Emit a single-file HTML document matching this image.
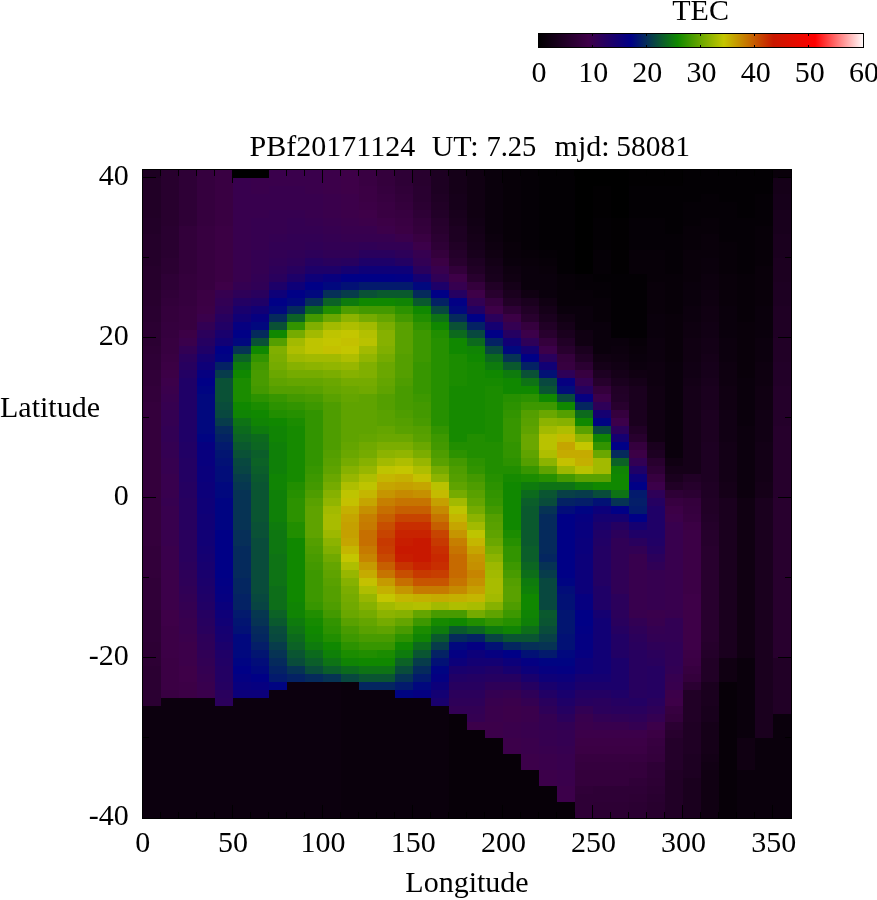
<!DOCTYPE html>
<html><head><meta charset="utf-8"><title>TEC map</title>
<style>
html,body{margin:0;padding:0;background:#fff;}
body{width:877px;height:900px;overflow:hidden;}
svg{display:block;}
text{font-family:"Liberation Serif","DejaVu Serif",serif;font-size:30.0px;fill:#000;}
.m{text-anchor:middle}.e{text-anchor:end}
</style></head><body>
<svg width="877" height="900" viewBox="0 0 877 900">
<rect width="877" height="900" fill="#fff"/>
<g shape-rendering="crispEdges">
<rect x="143" y="706" width="18" height="112" fill="#0c000e"/><rect x="143" y="666" width="18" height="40" fill="#2b0032"/><rect x="143" y="642" width="18" height="24" fill="#2d0034"/><rect x="143" y="610" width="18" height="32" fill="#2e0036"/><rect x="143" y="578" width="18" height="32" fill="#300038"/><rect x="143" y="546" width="18" height="32" fill="#32003a"/><rect x="143" y="402" width="18" height="144" fill="#34003c"/><rect x="143" y="386" width="18" height="16" fill="#32003a"/><rect x="143" y="370" width="18" height="16" fill="#300038"/><rect x="143" y="354" width="18" height="16" fill="#2e0036"/><rect x="143" y="346" width="18" height="8" fill="#2d0034"/><rect x="143" y="322" width="18" height="24" fill="#2b0032"/><rect x="143" y="306" width="18" height="16" fill="#290030"/><rect x="143" y="290" width="18" height="16" fill="#28002e"/><rect x="143" y="266" width="18" height="24" fill="#26002c"/><rect x="143" y="234" width="18" height="32" fill="#24002a"/><rect x="143" y="218" width="18" height="16" fill="#220028"/><rect x="143" y="178" width="18" height="40" fill="#210026"/><rect x="143" y="170" width="18" height="8" fill="#1d0022"/>
<rect x="161" y="698" width="18" height="120" fill="#0c000e"/><rect x="161" y="690" width="18" height="8" fill="#390042"/><rect x="161" y="658" width="18" height="32" fill="#3b0044"/><rect x="161" y="626" width="18" height="32" fill="#3c0046"/><rect x="161" y="610" width="18" height="16" fill="#3e0048"/><rect x="161" y="570" width="18" height="40" fill="#3c004a"/><rect x="161" y="546" width="18" height="24" fill="#3a004c"/><rect x="161" y="506" width="18" height="40" fill="#38004e"/><rect x="161" y="498" width="18" height="8" fill="#360050"/><rect x="161" y="474" width="18" height="24" fill="#38004e"/><rect x="161" y="458" width="18" height="16" fill="#360050"/><rect x="161" y="442" width="18" height="16" fill="#340052"/><rect x="161" y="426" width="18" height="16" fill="#320054"/><rect x="161" y="410" width="18" height="16" fill="#340052"/><rect x="161" y="402" width="18" height="8" fill="#360050"/><rect x="161" y="394" width="18" height="8" fill="#38004e"/><rect x="161" y="386" width="18" height="8" fill="#3a004c"/><rect x="161" y="378" width="18" height="8" fill="#3c004a"/><rect x="161" y="370" width="18" height="8" fill="#3c0046"/><rect x="161" y="362" width="18" height="8" fill="#3b0044"/><rect x="161" y="354" width="18" height="8" fill="#390042"/><rect x="161" y="338" width="18" height="16" fill="#370040"/><rect x="161" y="322" width="18" height="16" fill="#35003e"/><rect x="161" y="306" width="18" height="16" fill="#34003c"/><rect x="161" y="298" width="18" height="8" fill="#32003a"/><rect x="161" y="290" width="18" height="8" fill="#300038"/><rect x="161" y="274" width="18" height="16" fill="#2e0036"/><rect x="161" y="258" width="18" height="16" fill="#2b0032"/><rect x="161" y="226" width="18" height="32" fill="#290030"/><rect x="161" y="170" width="18" height="56" fill="#28002e"/>
<rect x="179" y="698" width="18" height="120" fill="#0c000e"/><rect x="179" y="682" width="18" height="16" fill="#3c0046"/><rect x="179" y="666" width="18" height="16" fill="#3e0048"/><rect x="179" y="642" width="18" height="24" fill="#3c004a"/><rect x="179" y="634" width="18" height="8" fill="#3a004c"/><rect x="179" y="618" width="18" height="16" fill="#38004e"/><rect x="179" y="610" width="18" height="8" fill="#360050"/><rect x="179" y="602" width="18" height="8" fill="#340052"/><rect x="179" y="594" width="18" height="8" fill="#320054"/><rect x="179" y="586" width="18" height="8" fill="#300056"/><rect x="179" y="578" width="18" height="8" fill="#2e0058"/><rect x="179" y="570" width="18" height="8" fill="#2d0059"/><rect x="179" y="562" width="18" height="8" fill="#2b005b"/><rect x="179" y="530" width="18" height="32" fill="#29005d"/><rect x="179" y="498" width="18" height="32" fill="#27005f"/><rect x="179" y="482" width="18" height="16" fill="#250061"/><rect x="179" y="458" width="18" height="24" fill="#230063"/><rect x="179" y="442" width="18" height="16" fill="#210065"/><rect x="179" y="378" width="18" height="64" fill="#1f0067"/><rect x="179" y="370" width="18" height="8" fill="#230063"/><rect x="179" y="362" width="18" height="8" fill="#27005f"/><rect x="179" y="354" width="18" height="8" fill="#2b005b"/><rect x="179" y="346" width="18" height="8" fill="#320054"/><rect x="179" y="338" width="18" height="8" fill="#3a004c"/><rect x="179" y="330" width="18" height="8" fill="#3c0046"/><rect x="179" y="306" width="18" height="24" fill="#370040"/><rect x="179" y="290" width="18" height="16" fill="#35003e"/><rect x="179" y="274" width="18" height="16" fill="#34003c"/><rect x="179" y="226" width="18" height="48" fill="#32003a"/><rect x="179" y="170" width="18" height="56" fill="#2e0036"/>
<rect x="197" y="698" width="18" height="120" fill="#0c000e"/><rect x="197" y="690" width="18" height="8" fill="#3a004c"/><rect x="197" y="682" width="18" height="8" fill="#38004e"/><rect x="197" y="674" width="18" height="8" fill="#360050"/><rect x="197" y="666" width="18" height="8" fill="#340052"/><rect x="197" y="658" width="18" height="8" fill="#320054"/><rect x="197" y="650" width="18" height="8" fill="#300056"/><rect x="197" y="642" width="18" height="8" fill="#2e0058"/><rect x="197" y="634" width="18" height="8" fill="#2d0059"/><rect x="197" y="626" width="18" height="8" fill="#29005d"/><rect x="197" y="618" width="18" height="8" fill="#27005f"/><rect x="197" y="610" width="18" height="8" fill="#250061"/><rect x="197" y="602" width="18" height="8" fill="#210065"/><rect x="197" y="594" width="18" height="8" fill="#1f0067"/><rect x="197" y="586" width="18" height="8" fill="#1d0069"/><rect x="197" y="578" width="18" height="8" fill="#1b006b"/><rect x="197" y="570" width="18" height="8" fill="#19006d"/><rect x="197" y="562" width="18" height="8" fill="#17006f"/><rect x="197" y="554" width="18" height="8" fill="#150071"/><rect x="197" y="546" width="18" height="8" fill="#130073"/><rect x="197" y="530" width="18" height="16" fill="#110075"/><rect x="197" y="514" width="18" height="16" fill="#100076"/><rect x="197" y="498" width="18" height="16" fill="#0e0078"/><rect x="197" y="482" width="18" height="16" fill="#0c007a"/><rect x="197" y="466" width="18" height="16" fill="#0a007c"/><rect x="197" y="450" width="18" height="16" fill="#08007e"/><rect x="197" y="442" width="18" height="8" fill="#060080"/><rect x="197" y="434" width="18" height="8" fill="#000482"/><rect x="197" y="394" width="18" height="40" fill="#01087e"/><rect x="197" y="386" width="18" height="8" fill="#000482"/><rect x="197" y="378" width="18" height="8" fill="#000086"/><rect x="197" y="370" width="18" height="8" fill="#060080"/><rect x="197" y="362" width="18" height="8" fill="#0e0078"/><rect x="197" y="354" width="18" height="8" fill="#150071"/><rect x="197" y="346" width="18" height="8" fill="#1f0067"/><rect x="197" y="338" width="18" height="8" fill="#250061"/><rect x="197" y="330" width="18" height="8" fill="#2b005b"/><rect x="197" y="322" width="18" height="8" fill="#320054"/><rect x="197" y="314" width="18" height="8" fill="#3a004c"/><rect x="197" y="306" width="18" height="8" fill="#3c0046"/><rect x="197" y="290" width="18" height="16" fill="#3b0044"/><rect x="197" y="226" width="18" height="64" fill="#370040"/><rect x="197" y="170" width="18" height="56" fill="#35003e"/>
<rect x="215" y="706" width="18" height="112" fill="#0c000e"/><rect x="215" y="698" width="18" height="8" fill="#2b005b"/><rect x="215" y="690" width="18" height="8" fill="#29005d"/><rect x="215" y="682" width="18" height="8" fill="#250061"/><rect x="215" y="666" width="18" height="16" fill="#230063"/><rect x="215" y="658" width="18" height="8" fill="#210065"/><rect x="215" y="650" width="18" height="8" fill="#1f0067"/><rect x="215" y="642" width="18" height="8" fill="#1b006b"/><rect x="215" y="634" width="18" height="8" fill="#17006f"/><rect x="215" y="626" width="18" height="8" fill="#150071"/><rect x="215" y="618" width="18" height="8" fill="#110075"/><rect x="215" y="610" width="18" height="8" fill="#0e0078"/><rect x="215" y="602" width="18" height="8" fill="#0a007c"/><rect x="215" y="594" width="18" height="8" fill="#060080"/><rect x="215" y="586" width="18" height="8" fill="#040082"/><rect x="215" y="578" width="18" height="8" fill="#020084"/><rect x="215" y="530" width="18" height="48" fill="#000086"/><rect x="215" y="498" width="18" height="32" fill="#000482"/><rect x="215" y="482" width="18" height="16" fill="#01087e"/><rect x="215" y="466" width="18" height="16" fill="#020d79"/><rect x="215" y="458" width="18" height="8" fill="#021175"/><rect x="215" y="450" width="18" height="8" fill="#021571"/><rect x="215" y="442" width="18" height="8" fill="#031a6d"/><rect x="215" y="434" width="18" height="8" fill="#042264"/><rect x="215" y="426" width="18" height="8" fill="#052a5c"/><rect x="215" y="418" width="18" height="8" fill="#073c4b"/><rect x="215" y="410" width="18" height="8" fill="#08483f"/><rect x="215" y="402" width="18" height="8" fill="#094c3b"/><rect x="215" y="378" width="18" height="24" fill="#0a5136"/><rect x="215" y="370" width="18" height="8" fill="#073c4b"/><rect x="215" y="362" width="18" height="8" fill="#042264"/><rect x="215" y="354" width="18" height="8" fill="#000482"/><rect x="215" y="346" width="18" height="8" fill="#000086"/><rect x="215" y="338" width="18" height="8" fill="#110075"/><rect x="215" y="330" width="18" height="8" fill="#19006d"/><rect x="215" y="322" width="18" height="8" fill="#210065"/><rect x="215" y="314" width="18" height="8" fill="#27005f"/><rect x="215" y="306" width="18" height="8" fill="#2e0058"/><rect x="215" y="298" width="18" height="8" fill="#320054"/><rect x="215" y="290" width="18" height="8" fill="#360050"/><rect x="215" y="282" width="18" height="8" fill="#3e0048"/><rect x="215" y="226" width="18" height="56" fill="#3b0044"/><rect x="215" y="170" width="18" height="56" fill="#390042"/>
<rect x="233" y="698" width="18" height="120" fill="#0c000e"/><rect x="233" y="690" width="18" height="8" fill="#0c007a"/><rect x="233" y="682" width="18" height="8" fill="#08007e"/><rect x="233" y="674" width="18" height="8" fill="#040082"/><rect x="233" y="666" width="18" height="8" fill="#000086"/><rect x="233" y="658" width="18" height="8" fill="#000482"/><rect x="233" y="634" width="18" height="24" fill="#01087e"/><rect x="233" y="626" width="18" height="8" fill="#021175"/><rect x="233" y="618" width="18" height="8" fill="#021571"/><rect x="233" y="610" width="18" height="8" fill="#031a6d"/><rect x="233" y="594" width="18" height="16" fill="#042264"/><rect x="233" y="578" width="18" height="16" fill="#042660"/><rect x="233" y="546" width="18" height="32" fill="#052a5c"/><rect x="233" y="530" width="18" height="16" fill="#062f58"/><rect x="233" y="490" width="18" height="40" fill="#063354"/><rect x="233" y="482" width="18" height="8" fill="#063750"/><rect x="233" y="474" width="18" height="8" fill="#073c4b"/><rect x="233" y="466" width="18" height="8" fill="#084443"/><rect x="233" y="458" width="18" height="8" fill="#08483f"/><rect x="233" y="450" width="18" height="8" fill="#0a5136"/><rect x="233" y="442" width="18" height="8" fill="#0a592e"/><rect x="233" y="434" width="18" height="8" fill="#0c6226"/><rect x="233" y="426" width="18" height="8" fill="#0c6a1d"/><rect x="233" y="418" width="18" height="8" fill="#0e7315"/><rect x="233" y="410" width="18" height="8" fill="#108404"/><rect x="233" y="402" width="18" height="8" fill="#108800"/><rect x="233" y="378" width="18" height="24" fill="#1b8c00"/><rect x="233" y="370" width="18" height="8" fill="#108800"/><rect x="233" y="362" width="18" height="8" fill="#0e7b0d"/><rect x="233" y="354" width="18" height="8" fill="#0c6226"/><rect x="233" y="346" width="18" height="8" fill="#063354"/><rect x="233" y="338" width="18" height="8" fill="#01087e"/><rect x="233" y="330" width="18" height="8" fill="#000086"/><rect x="233" y="322" width="18" height="8" fill="#060080"/><rect x="233" y="314" width="18" height="8" fill="#110075"/><rect x="233" y="306" width="18" height="8" fill="#19006d"/><rect x="233" y="298" width="18" height="8" fill="#230063"/><rect x="233" y="290" width="18" height="8" fill="#2e0058"/><rect x="233" y="282" width="18" height="8" fill="#340052"/><rect x="233" y="178" width="18" height="104" fill="#38004e"/><rect x="233" y="170" width="18" height="8" fill="#000000"/>
<rect x="251" y="698" width="18" height="120" fill="#0c000e"/><rect x="251" y="690" width="18" height="8" fill="#0c007a"/><rect x="251" y="682" width="18" height="8" fill="#060080"/><rect x="251" y="674" width="18" height="8" fill="#000086"/><rect x="251" y="666" width="18" height="8" fill="#01087e"/><rect x="251" y="658" width="18" height="8" fill="#020d79"/><rect x="251" y="650" width="18" height="8" fill="#021571"/><rect x="251" y="642" width="18" height="8" fill="#041e69"/><rect x="251" y="634" width="18" height="8" fill="#042660"/><rect x="251" y="626" width="18" height="8" fill="#052a5c"/><rect x="251" y="618" width="18" height="8" fill="#063354"/><rect x="251" y="610" width="18" height="8" fill="#063750"/><rect x="251" y="602" width="18" height="8" fill="#084443"/><rect x="251" y="594" width="18" height="8" fill="#08483f"/><rect x="251" y="538" width="18" height="56" fill="#094c3b"/><rect x="251" y="522" width="18" height="16" fill="#0a5136"/><rect x="251" y="482" width="18" height="40" fill="#0a5532"/><rect x="251" y="474" width="18" height="8" fill="#0a592e"/><rect x="251" y="466" width="18" height="8" fill="#0b5e2a"/><rect x="251" y="458" width="18" height="8" fill="#0c6226"/><rect x="251" y="450" width="18" height="8" fill="#0b5e2a"/><rect x="251" y="442" width="18" height="8" fill="#0c6622"/><rect x="251" y="434" width="18" height="8" fill="#0c6a1d"/><rect x="251" y="426" width="18" height="8" fill="#0e7b0d"/><rect x="251" y="418" width="18" height="8" fill="#108404"/><rect x="251" y="410" width="18" height="8" fill="#108800"/><rect x="251" y="402" width="18" height="8" fill="#1b8c00"/><rect x="251" y="394" width="18" height="8" fill="#2c9200"/><rect x="251" y="386" width="18" height="8" fill="#439900"/><rect x="251" y="370" width="18" height="16" fill="#489b00"/><rect x="251" y="362" width="18" height="8" fill="#439900"/><rect x="251" y="354" width="18" height="8" fill="#329400"/><rect x="251" y="346" width="18" height="8" fill="#108800"/><rect x="251" y="338" width="18" height="8" fill="#0a5136"/><rect x="251" y="330" width="18" height="8" fill="#052a5c"/><rect x="251" y="322" width="18" height="8" fill="#01087e"/><rect x="251" y="314" width="18" height="8" fill="#060080"/><rect x="251" y="306" width="18" height="8" fill="#110075"/><rect x="251" y="298" width="18" height="8" fill="#1f0067"/><rect x="251" y="290" width="18" height="8" fill="#29005d"/><rect x="251" y="282" width="18" height="8" fill="#300056"/><rect x="251" y="274" width="18" height="8" fill="#320054"/><rect x="251" y="250" width="18" height="24" fill="#340052"/><rect x="251" y="218" width="18" height="32" fill="#360050"/><rect x="251" y="194" width="18" height="24" fill="#38004e"/><rect x="251" y="178" width="18" height="16" fill="#3a004c"/><rect x="251" y="170" width="18" height="8" fill="#000000"/>
<rect x="269" y="690" width="18" height="128" fill="#0c000e"/><rect x="269" y="682" width="18" height="8" fill="#000482"/><rect x="269" y="674" width="18" height="8" fill="#031a6d"/><rect x="269" y="666" width="18" height="8" fill="#042264"/><rect x="269" y="658" width="18" height="8" fill="#052a5c"/><rect x="269" y="650" width="18" height="8" fill="#063354"/><rect x="269" y="642" width="18" height="8" fill="#073c4b"/><rect x="269" y="634" width="18" height="8" fill="#08483f"/><rect x="269" y="626" width="18" height="8" fill="#094c3b"/><rect x="269" y="618" width="18" height="8" fill="#0a592e"/><rect x="269" y="610" width="18" height="8" fill="#0c6226"/><rect x="269" y="586" width="18" height="24" fill="#0d6e19"/><rect x="269" y="554" width="18" height="32" fill="#0e7315"/><rect x="269" y="530" width="18" height="24" fill="#0e7711"/><rect x="269" y="522" width="18" height="8" fill="#0e7b0d"/><rect x="269" y="490" width="18" height="32" fill="#0f8008"/><rect x="269" y="474" width="18" height="16" fill="#108404"/><rect x="269" y="442" width="18" height="32" fill="#0f8008"/><rect x="269" y="426" width="18" height="16" fill="#108404"/><rect x="269" y="418" width="18" height="8" fill="#108800"/><rect x="269" y="410" width="18" height="8" fill="#218e00"/><rect x="269" y="402" width="18" height="8" fill="#2c9200"/><rect x="269" y="394" width="18" height="8" fill="#379600"/><rect x="269" y="386" width="18" height="8" fill="#549f00"/><rect x="269" y="378" width="18" height="8" fill="#5fa300"/><rect x="269" y="370" width="18" height="8" fill="#6aa700"/><rect x="269" y="362" width="18" height="8" fill="#75ab00"/><rect x="269" y="354" width="18" height="8" fill="#7bad00"/><rect x="269" y="346" width="18" height="8" fill="#80af00"/><rect x="269" y="338" width="18" height="8" fill="#549f00"/><rect x="269" y="330" width="18" height="8" fill="#108800"/><rect x="269" y="322" width="18" height="8" fill="#0a5136"/><rect x="269" y="314" width="18" height="8" fill="#052a5c"/><rect x="269" y="306" width="18" height="8" fill="#01087e"/><rect x="269" y="298" width="18" height="8" fill="#000086"/><rect x="269" y="290" width="18" height="8" fill="#0e0078"/><rect x="269" y="282" width="18" height="8" fill="#1d0069"/><rect x="269" y="274" width="18" height="8" fill="#29005d"/><rect x="269" y="266" width="18" height="8" fill="#2d0059"/><rect x="269" y="258" width="18" height="8" fill="#300056"/><rect x="269" y="242" width="18" height="16" fill="#320054"/><rect x="269" y="234" width="18" height="8" fill="#340052"/><rect x="269" y="210" width="18" height="24" fill="#360050"/><rect x="269" y="186" width="18" height="24" fill="#38004e"/><rect x="269" y="170" width="18" height="16" fill="#3a004c"/>
<rect x="287" y="682" width="18" height="136" fill="#0c000e"/><rect x="287" y="674" width="18" height="8" fill="#042264"/><rect x="287" y="666" width="18" height="8" fill="#063354"/><rect x="287" y="658" width="18" height="8" fill="#094c3b"/><rect x="287" y="650" width="18" height="8" fill="#0a5532"/><rect x="287" y="642" width="18" height="8" fill="#0c6226"/><rect x="287" y="634" width="18" height="8" fill="#0c6a1d"/><rect x="287" y="626" width="18" height="8" fill="#0e7315"/><rect x="287" y="618" width="18" height="8" fill="#0e7b0d"/><rect x="287" y="602" width="18" height="16" fill="#108404"/><rect x="287" y="538" width="18" height="64" fill="#108800"/><rect x="287" y="522" width="18" height="16" fill="#218e00"/><rect x="287" y="498" width="18" height="24" fill="#2c9200"/><rect x="287" y="490" width="18" height="8" fill="#269000"/><rect x="287" y="482" width="18" height="8" fill="#218e00"/><rect x="287" y="426" width="18" height="56" fill="#168a00"/><rect x="287" y="418" width="18" height="8" fill="#1b8c00"/><rect x="287" y="410" width="18" height="8" fill="#269000"/><rect x="287" y="402" width="18" height="8" fill="#329400"/><rect x="287" y="394" width="18" height="8" fill="#439900"/><rect x="287" y="386" width="18" height="8" fill="#549f00"/><rect x="287" y="378" width="18" height="8" fill="#64a500"/><rect x="287" y="370" width="18" height="8" fill="#75ab00"/><rect x="287" y="362" width="18" height="8" fill="#86b100"/><rect x="287" y="354" width="18" height="8" fill="#9db800"/><rect x="287" y="346" width="18" height="8" fill="#aebe00"/><rect x="287" y="338" width="18" height="8" fill="#a2ba00"/><rect x="287" y="330" width="18" height="8" fill="#75ab00"/><rect x="287" y="322" width="18" height="8" fill="#329400"/><rect x="287" y="314" width="18" height="8" fill="#0c6226"/><rect x="287" y="306" width="18" height="8" fill="#052a5c"/><rect x="287" y="298" width="18" height="8" fill="#01087e"/><rect x="287" y="290" width="18" height="8" fill="#000086"/><rect x="287" y="282" width="18" height="8" fill="#0e0078"/><rect x="287" y="274" width="18" height="8" fill="#1d0069"/><rect x="287" y="266" width="18" height="8" fill="#27005f"/><rect x="287" y="258" width="18" height="8" fill="#2d0059"/><rect x="287" y="250" width="18" height="8" fill="#300056"/><rect x="287" y="234" width="18" height="16" fill="#320054"/><rect x="287" y="218" width="18" height="16" fill="#340052"/><rect x="287" y="210" width="18" height="8" fill="#360050"/><rect x="287" y="186" width="18" height="24" fill="#38004e"/><rect x="287" y="170" width="18" height="16" fill="#3a004c"/>
<rect x="305" y="682" width="18" height="136" fill="#0c000e"/><rect x="305" y="674" width="18" height="8" fill="#052a5c"/><rect x="305" y="666" width="18" height="8" fill="#094c3b"/><rect x="305" y="658" width="18" height="8" fill="#0b5e2a"/><rect x="305" y="650" width="18" height="8" fill="#0c6a1d"/><rect x="305" y="642" width="18" height="8" fill="#0e7b0d"/><rect x="305" y="634" width="18" height="8" fill="#108404"/><rect x="305" y="626" width="18" height="8" fill="#108800"/><rect x="305" y="618" width="18" height="8" fill="#168a00"/><rect x="305" y="610" width="18" height="8" fill="#218e00"/><rect x="305" y="602" width="18" height="8" fill="#379600"/><rect x="305" y="570" width="18" height="32" fill="#3d9800"/><rect x="305" y="562" width="18" height="8" fill="#439900"/><rect x="305" y="554" width="18" height="8" fill="#489b00"/><rect x="305" y="546" width="18" height="8" fill="#4e9d00"/><rect x="305" y="538" width="18" height="8" fill="#549f00"/><rect x="305" y="506" width="18" height="32" fill="#5fa300"/><rect x="305" y="498" width="18" height="8" fill="#59a100"/><rect x="305" y="490" width="18" height="8" fill="#4e9d00"/><rect x="305" y="482" width="18" height="8" fill="#439900"/><rect x="305" y="474" width="18" height="8" fill="#3d9800"/><rect x="305" y="466" width="18" height="8" fill="#379600"/><rect x="305" y="410" width="18" height="56" fill="#329400"/><rect x="305" y="402" width="18" height="8" fill="#3d9800"/><rect x="305" y="394" width="18" height="8" fill="#489b00"/><rect x="305" y="386" width="18" height="8" fill="#59a100"/><rect x="305" y="378" width="18" height="8" fill="#64a500"/><rect x="305" y="370" width="18" height="8" fill="#75ab00"/><rect x="305" y="362" width="18" height="8" fill="#8cb300"/><rect x="305" y="354" width="18" height="8" fill="#a2ba00"/><rect x="305" y="338" width="18" height="16" fill="#bec400"/><rect x="305" y="330" width="18" height="8" fill="#a2ba00"/><rect x="305" y="322" width="18" height="8" fill="#80af00"/><rect x="305" y="314" width="18" height="8" fill="#439900"/><rect x="305" y="306" width="18" height="8" fill="#0c6a1d"/><rect x="305" y="298" width="18" height="8" fill="#062f58"/><rect x="305" y="290" width="18" height="8" fill="#01087e"/><rect x="305" y="282" width="18" height="8" fill="#000086"/><rect x="305" y="274" width="18" height="8" fill="#0e0078"/><rect x="305" y="266" width="18" height="8" fill="#1d0069"/><rect x="305" y="258" width="18" height="8" fill="#250061"/><rect x="305" y="250" width="18" height="8" fill="#2d0059"/><rect x="305" y="242" width="18" height="8" fill="#300056"/><rect x="305" y="234" width="18" height="8" fill="#320054"/><rect x="305" y="226" width="18" height="8" fill="#340052"/><rect x="305" y="218" width="18" height="8" fill="#360050"/><rect x="305" y="194" width="18" height="24" fill="#38004e"/><rect x="305" y="170" width="18" height="24" fill="#3a004c"/>
<rect x="323" y="682" width="18" height="136" fill="#0c000e"/><rect x="323" y="674" width="18" height="8" fill="#063354"/><rect x="323" y="666" width="18" height="8" fill="#0b5e2a"/><rect x="323" y="658" width="18" height="8" fill="#0e7315"/><rect x="323" y="650" width="18" height="8" fill="#0f8008"/><rect x="323" y="642" width="18" height="8" fill="#108800"/><rect x="323" y="634" width="18" height="8" fill="#218e00"/><rect x="323" y="626" width="18" height="8" fill="#2c9200"/><rect x="323" y="618" width="18" height="8" fill="#329400"/><rect x="323" y="610" width="18" height="8" fill="#439900"/><rect x="323" y="602" width="18" height="8" fill="#4e9d00"/><rect x="323" y="586" width="18" height="16" fill="#549f00"/><rect x="323" y="578" width="18" height="8" fill="#59a100"/><rect x="323" y="570" width="18" height="8" fill="#5fa300"/><rect x="323" y="562" width="18" height="8" fill="#64a500"/><rect x="323" y="554" width="18" height="8" fill="#70a900"/><rect x="323" y="546" width="18" height="8" fill="#80af00"/><rect x="323" y="538" width="18" height="8" fill="#8cb300"/><rect x="323" y="530" width="18" height="8" fill="#9db800"/><rect x="323" y="514" width="18" height="16" fill="#a8bc00"/><rect x="323" y="506" width="18" height="8" fill="#a2ba00"/><rect x="323" y="498" width="18" height="8" fill="#91b500"/><rect x="323" y="490" width="18" height="8" fill="#86b100"/><rect x="323" y="482" width="18" height="8" fill="#75ab00"/><rect x="323" y="474" width="18" height="8" fill="#6aa700"/><rect x="323" y="466" width="18" height="8" fill="#5fa300"/><rect x="323" y="458" width="18" height="8" fill="#59a100"/><rect x="323" y="450" width="18" height="8" fill="#549f00"/><rect x="323" y="402" width="18" height="48" fill="#4e9d00"/><rect x="323" y="394" width="18" height="8" fill="#59a100"/><rect x="323" y="386" width="18" height="8" fill="#64a500"/><rect x="323" y="378" width="18" height="8" fill="#6aa700"/><rect x="323" y="370" width="18" height="8" fill="#7bad00"/><rect x="323" y="362" width="18" height="8" fill="#91b500"/><rect x="323" y="354" width="18" height="8" fill="#a2ba00"/><rect x="323" y="346" width="18" height="8" fill="#c4c100"/><rect x="323" y="338" width="18" height="8" fill="#c4c600"/><rect x="323" y="330" width="18" height="8" fill="#bec400"/><rect x="323" y="322" width="18" height="8" fill="#a2ba00"/><rect x="323" y="314" width="18" height="8" fill="#6aa700"/><rect x="323" y="306" width="18" height="8" fill="#218e00"/><rect x="323" y="298" width="18" height="8" fill="#0c6226"/><rect x="323" y="290" width="18" height="8" fill="#062f58"/><rect x="323" y="282" width="18" height="8" fill="#01087e"/><rect x="323" y="274" width="18" height="8" fill="#08007e"/><rect x="323" y="266" width="18" height="8" fill="#1d0069"/><rect x="323" y="258" width="18" height="8" fill="#29005d"/><rect x="323" y="250" width="18" height="8" fill="#300056"/><rect x="323" y="242" width="18" height="8" fill="#320054"/><rect x="323" y="234" width="18" height="8" fill="#340052"/><rect x="323" y="226" width="18" height="8" fill="#360050"/><rect x="323" y="218" width="18" height="8" fill="#38004e"/><rect x="323" y="194" width="18" height="24" fill="#3a004c"/><rect x="323" y="170" width="18" height="24" fill="#3c004a"/>
<rect x="341" y="682" width="18" height="136" fill="#0a000c"/><rect x="341" y="674" width="18" height="8" fill="#08483f"/><rect x="341" y="666" width="18" height="8" fill="#0c6a1d"/><rect x="341" y="658" width="18" height="8" fill="#108404"/><rect x="341" y="650" width="18" height="8" fill="#1b8c00"/><rect x="341" y="642" width="18" height="8" fill="#2c9200"/><rect x="341" y="634" width="18" height="8" fill="#3d9800"/><rect x="341" y="626" width="18" height="8" fill="#489b00"/><rect x="341" y="618" width="18" height="8" fill="#59a100"/><rect x="341" y="610" width="18" height="8" fill="#6aa700"/><rect x="341" y="602" width="18" height="8" fill="#70a900"/><rect x="341" y="594" width="18" height="8" fill="#75ab00"/><rect x="341" y="586" width="18" height="8" fill="#7bad00"/><rect x="341" y="578" width="18" height="8" fill="#86b100"/><rect x="341" y="570" width="18" height="8" fill="#97b600"/><rect x="341" y="562" width="18" height="8" fill="#aebe00"/><rect x="341" y="554" width="18" height="8" fill="#c4c600"/><rect x="341" y="546" width="18" height="8" fill="#c4b600"/><rect x="341" y="538" width="18" height="8" fill="#c5a500"/><rect x="341" y="522" width="18" height="16" fill="#c5a000"/><rect x="341" y="514" width="18" height="8" fill="#c5a500"/><rect x="341" y="506" width="18" height="8" fill="#c4b000"/><rect x="341" y="498" width="18" height="8" fill="#c4c100"/><rect x="341" y="490" width="18" height="8" fill="#bec400"/><rect x="341" y="482" width="18" height="8" fill="#aebe00"/><rect x="341" y="474" width="18" height="8" fill="#97b600"/><rect x="341" y="466" width="18" height="8" fill="#86b100"/><rect x="341" y="458" width="18" height="8" fill="#75ab00"/><rect x="341" y="450" width="18" height="8" fill="#6aa700"/><rect x="341" y="442" width="18" height="8" fill="#64a500"/><rect x="341" y="402" width="18" height="40" fill="#5fa300"/><rect x="341" y="394" width="18" height="8" fill="#64a500"/><rect x="341" y="386" width="18" height="8" fill="#6aa700"/><rect x="341" y="378" width="18" height="8" fill="#75ab00"/><rect x="341" y="370" width="18" height="8" fill="#86b100"/><rect x="341" y="362" width="18" height="8" fill="#97b600"/><rect x="341" y="354" width="18" height="8" fill="#aebe00"/><rect x="341" y="346" width="18" height="8" fill="#c4c600"/><rect x="341" y="338" width="18" height="8" fill="#c4c100"/><rect x="341" y="330" width="18" height="8" fill="#c4c600"/><rect x="341" y="322" width="18" height="8" fill="#aebe00"/><rect x="341" y="314" width="18" height="8" fill="#8cb300"/><rect x="341" y="306" width="18" height="8" fill="#4e9d00"/><rect x="341" y="298" width="18" height="8" fill="#0e7b0d"/><rect x="341" y="290" width="18" height="8" fill="#073c4b"/><rect x="341" y="282" width="18" height="8" fill="#021175"/><rect x="341" y="274" width="18" height="8" fill="#000086"/><rect x="341" y="266" width="18" height="8" fill="#150071"/><rect x="341" y="258" width="18" height="8" fill="#27005f"/><rect x="341" y="250" width="18" height="8" fill="#300056"/><rect x="341" y="242" width="18" height="8" fill="#320054"/><rect x="341" y="234" width="18" height="8" fill="#360050"/><rect x="341" y="226" width="18" height="8" fill="#38004e"/><rect x="341" y="218" width="18" height="8" fill="#3a004c"/><rect x="341" y="194" width="18" height="24" fill="#3c004a"/><rect x="341" y="170" width="18" height="24" fill="#3e0048"/>
<rect x="359" y="690" width="18" height="128" fill="#0a000c"/><rect x="359" y="682" width="18" height="8" fill="#042660"/><rect x="359" y="674" width="18" height="8" fill="#0a5532"/><rect x="359" y="666" width="18" height="8" fill="#0e7315"/><rect x="359" y="658" width="18" height="8" fill="#108800"/><rect x="359" y="650" width="18" height="8" fill="#218e00"/><rect x="359" y="642" width="18" height="8" fill="#379600"/><rect x="359" y="634" width="18" height="8" fill="#489b00"/><rect x="359" y="626" width="18" height="8" fill="#59a100"/><rect x="359" y="618" width="18" height="8" fill="#64a500"/><rect x="359" y="610" width="18" height="8" fill="#75ab00"/><rect x="359" y="602" width="18" height="8" fill="#86b100"/><rect x="359" y="594" width="18" height="8" fill="#97b600"/><rect x="359" y="586" width="18" height="8" fill="#aebe00"/><rect x="359" y="578" width="18" height="8" fill="#c4c100"/><rect x="359" y="570" width="18" height="8" fill="#c5ab00"/><rect x="359" y="562" width="18" height="8" fill="#c59a00"/><rect x="359" y="554" width="18" height="8" fill="#c68500"/><rect x="359" y="546" width="18" height="8" fill="#c67a00"/><rect x="359" y="530" width="18" height="16" fill="#c66f00"/><rect x="359" y="522" width="18" height="8" fill="#c67a00"/><rect x="359" y="514" width="18" height="8" fill="#c67f00"/><rect x="359" y="506" width="18" height="8" fill="#c59000"/><rect x="359" y="498" width="18" height="8" fill="#c5a500"/><rect x="359" y="490" width="18" height="8" fill="#c4b600"/><rect x="359" y="482" width="18" height="8" fill="#bec400"/><rect x="359" y="474" width="18" height="8" fill="#aebe00"/><rect x="359" y="466" width="18" height="8" fill="#97b600"/><rect x="359" y="458" width="18" height="8" fill="#86b100"/><rect x="359" y="450" width="18" height="8" fill="#75ab00"/><rect x="359" y="442" width="18" height="8" fill="#70a900"/><rect x="359" y="434" width="18" height="8" fill="#64a500"/><rect x="359" y="394" width="18" height="40" fill="#5fa300"/><rect x="359" y="386" width="18" height="8" fill="#70a900"/><rect x="359" y="378" width="18" height="8" fill="#75ab00"/><rect x="359" y="362" width="18" height="16" fill="#80af00"/><rect x="359" y="354" width="18" height="8" fill="#91b500"/><rect x="359" y="346" width="18" height="8" fill="#a2ba00"/><rect x="359" y="338" width="18" height="8" fill="#b9c200"/><rect x="359" y="330" width="18" height="8" fill="#b3c000"/><rect x="359" y="322" width="18" height="8" fill="#a2ba00"/><rect x="359" y="314" width="18" height="8" fill="#75ab00"/><rect x="359" y="306" width="18" height="8" fill="#439900"/><rect x="359" y="298" width="18" height="8" fill="#108800"/><rect x="359" y="290" width="18" height="8" fill="#0a5136"/><rect x="359" y="282" width="18" height="8" fill="#031a6d"/><rect x="359" y="274" width="18" height="8" fill="#000086"/><rect x="359" y="266" width="18" height="8" fill="#0e0078"/><rect x="359" y="258" width="18" height="8" fill="#1d0069"/><rect x="359" y="250" width="18" height="8" fill="#29005d"/><rect x="359" y="242" width="18" height="8" fill="#300056"/><rect x="359" y="234" width="18" height="8" fill="#360050"/><rect x="359" y="226" width="18" height="8" fill="#38004e"/><rect x="359" y="218" width="18" height="8" fill="#3c004a"/><rect x="359" y="210" width="18" height="8" fill="#3e0048"/><rect x="359" y="202" width="18" height="8" fill="#3c0046"/><rect x="359" y="186" width="18" height="16" fill="#3b0044"/><rect x="359" y="170" width="18" height="16" fill="#390042"/>
<rect x="377" y="690" width="18" height="128" fill="#0a000c"/><rect x="377" y="682" width="18" height="8" fill="#042660"/><rect x="377" y="674" width="18" height="8" fill="#0a5532"/><rect x="377" y="666" width="18" height="8" fill="#0e7315"/><rect x="377" y="658" width="18" height="8" fill="#108800"/><rect x="377" y="650" width="18" height="8" fill="#1b8c00"/><rect x="377" y="642" width="18" height="8" fill="#379600"/><rect x="377" y="634" width="18" height="8" fill="#489b00"/><rect x="377" y="626" width="18" height="8" fill="#5fa300"/><rect x="377" y="618" width="18" height="8" fill="#75ab00"/><rect x="377" y="610" width="18" height="8" fill="#8cb300"/><rect x="377" y="602" width="18" height="8" fill="#a2ba00"/><rect x="377" y="594" width="18" height="8" fill="#c4c600"/><rect x="377" y="586" width="18" height="8" fill="#c4b000"/><rect x="377" y="578" width="18" height="8" fill="#c59a00"/><rect x="377" y="570" width="18" height="8" fill="#c67400"/><rect x="377" y="562" width="18" height="8" fill="#c65f00"/><rect x="377" y="554" width="18" height="8" fill="#c74900"/><rect x="377" y="546" width="18" height="8" fill="#c73e00"/><rect x="377" y="538" width="18" height="8" fill="#c73900"/><rect x="377" y="530" width="18" height="8" fill="#c74400"/><rect x="377" y="522" width="18" height="8" fill="#c74e00"/><rect x="377" y="514" width="18" height="8" fill="#c65f00"/><rect x="377" y="506" width="18" height="8" fill="#c66f00"/><rect x="377" y="498" width="18" height="8" fill="#c67f00"/><rect x="377" y="490" width="18" height="8" fill="#c59500"/><rect x="377" y="482" width="18" height="8" fill="#c5a500"/><rect x="377" y="474" width="18" height="8" fill="#c4b600"/><rect x="377" y="466" width="18" height="8" fill="#bec400"/><rect x="377" y="458" width="18" height="8" fill="#a2ba00"/><rect x="377" y="450" width="18" height="8" fill="#8cb300"/><rect x="377" y="442" width="18" height="8" fill="#7bad00"/><rect x="377" y="434" width="18" height="8" fill="#6aa700"/><rect x="377" y="426" width="18" height="8" fill="#64a500"/><rect x="377" y="410" width="18" height="16" fill="#59a100"/><rect x="377" y="394" width="18" height="16" fill="#549f00"/><rect x="377" y="386" width="18" height="8" fill="#5fa300"/><rect x="377" y="378" width="18" height="8" fill="#64a500"/><rect x="377" y="362" width="18" height="16" fill="#6aa700"/><rect x="377" y="354" width="18" height="8" fill="#75ab00"/><rect x="377" y="346" width="18" height="8" fill="#80af00"/><rect x="377" y="330" width="18" height="16" fill="#86b100"/><rect x="377" y="322" width="18" height="8" fill="#7bad00"/><rect x="377" y="314" width="18" height="8" fill="#64a500"/><rect x="377" y="306" width="18" height="8" fill="#439900"/><rect x="377" y="298" width="18" height="8" fill="#108800"/><rect x="377" y="290" width="18" height="8" fill="#0a592e"/><rect x="377" y="282" width="18" height="8" fill="#031a6d"/><rect x="377" y="274" width="18" height="8" fill="#000086"/><rect x="377" y="266" width="18" height="8" fill="#0e0078"/><rect x="377" y="258" width="18" height="8" fill="#1d0069"/><rect x="377" y="250" width="18" height="8" fill="#29005d"/><rect x="377" y="242" width="18" height="8" fill="#320054"/><rect x="377" y="234" width="18" height="8" fill="#360050"/><rect x="377" y="226" width="18" height="8" fill="#3c004a"/><rect x="377" y="218" width="18" height="8" fill="#3c0046"/><rect x="377" y="202" width="18" height="16" fill="#390042"/><rect x="377" y="194" width="18" height="8" fill="#370040"/><rect x="377" y="186" width="18" height="8" fill="#35003e"/><rect x="377" y="170" width="18" height="16" fill="#34003c"/>
<rect x="395" y="698" width="18" height="120" fill="#0a000c"/><rect x="395" y="690" width="18" height="8" fill="#000482"/><rect x="395" y="682" width="18" height="8" fill="#031a6d"/><rect x="395" y="674" width="18" height="8" fill="#063354"/><rect x="395" y="666" width="18" height="8" fill="#094c3b"/><rect x="395" y="658" width="18" height="8" fill="#0c6226"/><rect x="395" y="650" width="18" height="8" fill="#0e7b0d"/><rect x="395" y="642" width="18" height="8" fill="#108800"/><rect x="395" y="634" width="18" height="8" fill="#2c9200"/><rect x="395" y="626" width="18" height="8" fill="#489b00"/><rect x="395" y="618" width="18" height="8" fill="#64a500"/><rect x="395" y="610" width="18" height="8" fill="#86b100"/><rect x="395" y="602" width="18" height="8" fill="#aebe00"/><rect x="395" y="594" width="18" height="8" fill="#c4b600"/><rect x="395" y="586" width="18" height="8" fill="#c59500"/><rect x="395" y="578" width="18" height="8" fill="#c66f00"/><rect x="395" y="570" width="18" height="8" fill="#c74e00"/><rect x="395" y="562" width="18" height="8" fill="#c73300"/><rect x="395" y="554" width="18" height="8" fill="#c81d00"/><rect x="395" y="546" width="18" height="8" fill="#c81800"/><rect x="395" y="538" width="18" height="8" fill="#c81d00"/><rect x="395" y="530" width="18" height="8" fill="#c82300"/><rect x="395" y="522" width="18" height="8" fill="#c82e00"/><rect x="395" y="514" width="18" height="8" fill="#c74400"/><rect x="395" y="506" width="18" height="8" fill="#c65f00"/><rect x="395" y="498" width="18" height="8" fill="#c67400"/><rect x="395" y="490" width="18" height="8" fill="#c58a00"/><rect x="395" y="482" width="18" height="8" fill="#c5a000"/><rect x="395" y="474" width="18" height="8" fill="#c4b000"/><rect x="395" y="466" width="18" height="8" fill="#c4c600"/><rect x="395" y="458" width="18" height="8" fill="#aebe00"/><rect x="395" y="450" width="18" height="8" fill="#91b500"/><rect x="395" y="442" width="18" height="8" fill="#7bad00"/><rect x="395" y="434" width="18" height="8" fill="#6aa700"/><rect x="395" y="426" width="18" height="8" fill="#59a100"/><rect x="395" y="418" width="18" height="8" fill="#549f00"/><rect x="395" y="410" width="18" height="8" fill="#4e9d00"/><rect x="395" y="386" width="18" height="24" fill="#489b00"/><rect x="395" y="378" width="18" height="8" fill="#4e9d00"/><rect x="395" y="354" width="18" height="24" fill="#549f00"/><rect x="395" y="322" width="18" height="32" fill="#59a100"/><rect x="395" y="314" width="18" height="8" fill="#439900"/><rect x="395" y="306" width="18" height="8" fill="#2c9200"/><rect x="395" y="298" width="18" height="8" fill="#108404"/><rect x="395" y="290" width="18" height="8" fill="#0a592e"/><rect x="395" y="282" width="18" height="8" fill="#031a6d"/><rect x="395" y="274" width="18" height="8" fill="#020084"/><rect x="395" y="266" width="18" height="8" fill="#0e0078"/><rect x="395" y="258" width="18" height="8" fill="#230063"/><rect x="395" y="250" width="18" height="8" fill="#2d0059"/><rect x="395" y="242" width="18" height="8" fill="#320054"/><rect x="395" y="234" width="18" height="8" fill="#3a004c"/><rect x="395" y="226" width="18" height="8" fill="#3b0044"/><rect x="395" y="218" width="18" height="8" fill="#390042"/><rect x="395" y="210" width="18" height="8" fill="#370040"/><rect x="395" y="202" width="18" height="8" fill="#34003c"/><rect x="395" y="194" width="18" height="8" fill="#32003a"/><rect x="395" y="186" width="18" height="8" fill="#300038"/><rect x="395" y="170" width="18" height="16" fill="#2e0036"/>
<rect x="413" y="698" width="18" height="120" fill="#0a000c"/><rect x="413" y="690" width="18" height="8" fill="#040082"/><rect x="413" y="682" width="18" height="8" fill="#01087e"/><rect x="413" y="674" width="18" height="8" fill="#031a6d"/><rect x="413" y="666" width="18" height="8" fill="#052a5c"/><rect x="413" y="658" width="18" height="8" fill="#073c4b"/><rect x="413" y="650" width="18" height="8" fill="#0a5532"/><rect x="413" y="642" width="18" height="8" fill="#0c6a1d"/><rect x="413" y="634" width="18" height="8" fill="#108404"/><rect x="413" y="626" width="18" height="8" fill="#1b8c00"/><rect x="413" y="618" width="18" height="8" fill="#3d9800"/><rect x="413" y="610" width="18" height="8" fill="#64a500"/><rect x="413" y="602" width="18" height="8" fill="#b3c000"/><rect x="413" y="594" width="18" height="8" fill="#c4b000"/><rect x="413" y="586" width="18" height="8" fill="#c67a00"/><rect x="413" y="578" width="18" height="8" fill="#c75400"/><rect x="413" y="570" width="18" height="8" fill="#c73900"/><rect x="413" y="562" width="18" height="8" fill="#c82300"/><rect x="413" y="538" width="18" height="24" fill="#c81800"/><rect x="413" y="530" width="18" height="8" fill="#c82300"/><rect x="413" y="522" width="18" height="8" fill="#c82e00"/><rect x="413" y="514" width="18" height="8" fill="#c74400"/><rect x="413" y="506" width="18" height="8" fill="#c65f00"/><rect x="413" y="498" width="18" height="8" fill="#c67400"/><rect x="413" y="490" width="18" height="8" fill="#c59000"/><rect x="413" y="482" width="18" height="8" fill="#c5a500"/><rect x="413" y="474" width="18" height="8" fill="#c4c100"/><rect x="413" y="466" width="18" height="8" fill="#aebe00"/><rect x="413" y="458" width="18" height="8" fill="#97b600"/><rect x="413" y="450" width="18" height="8" fill="#7bad00"/><rect x="413" y="442" width="18" height="8" fill="#6aa700"/><rect x="413" y="434" width="18" height="8" fill="#59a100"/><rect x="413" y="426" width="18" height="8" fill="#549f00"/><rect x="413" y="418" width="18" height="8" fill="#489b00"/><rect x="413" y="402" width="18" height="16" fill="#439900"/><rect x="413" y="394" width="18" height="8" fill="#3d9800"/><rect x="413" y="362" width="18" height="32" fill="#379600"/><rect x="413" y="330" width="18" height="32" fill="#3d9800"/><rect x="413" y="322" width="18" height="8" fill="#329400"/><rect x="413" y="314" width="18" height="8" fill="#218e00"/><rect x="413" y="306" width="18" height="8" fill="#108800"/><rect x="413" y="298" width="18" height="8" fill="#0a592e"/><rect x="413" y="290" width="18" height="8" fill="#052a5c"/><rect x="413" y="282" width="18" height="8" fill="#01087e"/><rect x="413" y="274" width="18" height="8" fill="#150071"/><rect x="413" y="266" width="18" height="8" fill="#29005d"/><rect x="413" y="258" width="18" height="8" fill="#320054"/><rect x="413" y="250" width="18" height="8" fill="#360050"/><rect x="413" y="242" width="18" height="8" fill="#3c004a"/><rect x="413" y="234" width="18" height="8" fill="#390042"/><rect x="413" y="226" width="18" height="8" fill="#34003c"/><rect x="413" y="218" width="18" height="8" fill="#32003a"/><rect x="413" y="210" width="18" height="8" fill="#2e0036"/><rect x="413" y="202" width="18" height="8" fill="#2b0032"/><rect x="413" y="186" width="18" height="16" fill="#290030"/><rect x="413" y="170" width="18" height="16" fill="#28002e"/>
<rect x="431" y="706" width="18" height="112" fill="#0a000c"/><rect x="431" y="698" width="18" height="8" fill="#19006d"/><rect x="431" y="690" width="18" height="8" fill="#130073"/><rect x="431" y="682" width="18" height="8" fill="#0c007a"/><rect x="431" y="674" width="18" height="8" fill="#040082"/><rect x="431" y="666" width="18" height="8" fill="#000482"/><rect x="431" y="658" width="18" height="8" fill="#021175"/><rect x="431" y="650" width="18" height="8" fill="#042264"/><rect x="431" y="642" width="18" height="8" fill="#073c4b"/><rect x="431" y="634" width="18" height="8" fill="#0a592e"/><rect x="431" y="626" width="18" height="8" fill="#0e7b0d"/><rect x="431" y="618" width="18" height="8" fill="#168a00"/><rect x="431" y="610" width="18" height="8" fill="#489b00"/><rect x="431" y="602" width="18" height="8" fill="#a2ba00"/><rect x="431" y="594" width="18" height="8" fill="#c5ab00"/><rect x="431" y="586" width="18" height="8" fill="#c67a00"/><rect x="431" y="578" width="18" height="8" fill="#c75400"/><rect x="431" y="570" width="18" height="8" fill="#c73e00"/><rect x="431" y="562" width="18" height="8" fill="#c82e00"/><rect x="431" y="554" width="18" height="8" fill="#c82800"/><rect x="431" y="546" width="18" height="8" fill="#c82e00"/><rect x="431" y="538" width="18" height="8" fill="#c73900"/><rect x="431" y="530" width="18" height="8" fill="#c74400"/><rect x="431" y="522" width="18" height="8" fill="#c65f00"/><rect x="431" y="514" width="18" height="8" fill="#c67400"/><rect x="431" y="506" width="18" height="8" fill="#c58a00"/><rect x="431" y="498" width="18" height="8" fill="#c5a000"/><rect x="431" y="490" width="18" height="8" fill="#c4bb00"/><rect x="431" y="482" width="18" height="8" fill="#b9c200"/><rect x="431" y="474" width="18" height="8" fill="#8cb300"/><rect x="431" y="466" width="18" height="8" fill="#75ab00"/><rect x="431" y="458" width="18" height="8" fill="#59a100"/><rect x="431" y="450" width="18" height="8" fill="#4e9d00"/><rect x="431" y="442" width="18" height="8" fill="#439900"/><rect x="431" y="434" width="18" height="8" fill="#3d9800"/><rect x="431" y="426" width="18" height="8" fill="#329400"/><rect x="431" y="338" width="18" height="88" fill="#269000"/><rect x="431" y="330" width="18" height="8" fill="#218e00"/><rect x="431" y="322" width="18" height="8" fill="#108800"/><rect x="431" y="314" width="18" height="8" fill="#0e7315"/><rect x="431" y="306" width="18" height="8" fill="#08483f"/><rect x="431" y="298" width="18" height="8" fill="#042264"/><rect x="431" y="290" width="18" height="8" fill="#000086"/><rect x="431" y="282" width="18" height="8" fill="#1d0069"/><rect x="431" y="274" width="18" height="8" fill="#300056"/><rect x="431" y="266" width="18" height="8" fill="#38004e"/><rect x="431" y="258" width="18" height="8" fill="#3b0044"/><rect x="431" y="250" width="18" height="8" fill="#34003c"/><rect x="431" y="242" width="18" height="8" fill="#2e0036"/><rect x="431" y="234" width="18" height="8" fill="#2b0032"/><rect x="431" y="226" width="18" height="8" fill="#28002e"/><rect x="431" y="218" width="18" height="8" fill="#26002c"/><rect x="431" y="210" width="18" height="8" fill="#220028"/><rect x="431" y="202" width="18" height="8" fill="#210026"/><rect x="431" y="194" width="18" height="8" fill="#1f0024"/><rect x="431" y="170" width="18" height="24" fill="#1d0022"/>
<rect x="449" y="714" width="18" height="104" fill="#070008"/><rect x="449" y="706" width="18" height="8" fill="#320054"/><rect x="449" y="698" width="18" height="8" fill="#2e0058"/><rect x="449" y="690" width="18" height="8" fill="#2b005b"/><rect x="449" y="682" width="18" height="8" fill="#27005f"/><rect x="449" y="674" width="18" height="8" fill="#210065"/><rect x="449" y="666" width="18" height="8" fill="#19006d"/><rect x="449" y="658" width="18" height="8" fill="#0c007a"/><rect x="449" y="650" width="18" height="8" fill="#040082"/><rect x="449" y="642" width="18" height="8" fill="#01087e"/><rect x="449" y="634" width="18" height="8" fill="#052a5c"/><rect x="449" y="626" width="18" height="8" fill="#0a592e"/><rect x="449" y="618" width="18" height="8" fill="#108800"/><rect x="449" y="610" width="18" height="8" fill="#489b00"/><rect x="449" y="602" width="18" height="8" fill="#aebe00"/><rect x="449" y="594" width="18" height="8" fill="#c4b000"/><rect x="449" y="586" width="18" height="8" fill="#c58a00"/><rect x="449" y="578" width="18" height="8" fill="#c67400"/><rect x="449" y="554" width="18" height="24" fill="#c66a00"/><rect x="449" y="546" width="18" height="8" fill="#c67400"/><rect x="449" y="538" width="18" height="8" fill="#c67f00"/><rect x="449" y="530" width="18" height="8" fill="#c59500"/><rect x="449" y="522" width="18" height="8" fill="#c5a500"/><rect x="449" y="514" width="18" height="8" fill="#c4b600"/><rect x="449" y="506" width="18" height="8" fill="#bec400"/><rect x="449" y="498" width="18" height="8" fill="#a2ba00"/><rect x="449" y="490" width="18" height="8" fill="#75ab00"/><rect x="449" y="482" width="18" height="8" fill="#5fa300"/><rect x="449" y="474" width="18" height="8" fill="#549f00"/><rect x="449" y="466" width="18" height="8" fill="#4e9d00"/><rect x="449" y="458" width="18" height="8" fill="#439900"/><rect x="449" y="450" width="18" height="8" fill="#2c9200"/><rect x="449" y="442" width="18" height="8" fill="#218e00"/><rect x="449" y="386" width="18" height="56" fill="#168a00"/><rect x="449" y="354" width="18" height="32" fill="#1b8c00"/><rect x="449" y="338" width="18" height="16" fill="#108800"/><rect x="449" y="330" width="18" height="8" fill="#0c6a1d"/><rect x="449" y="322" width="18" height="8" fill="#0a5136"/><rect x="449" y="314" width="18" height="8" fill="#052a5c"/><rect x="449" y="306" width="18" height="8" fill="#01087e"/><rect x="449" y="298" width="18" height="8" fill="#020084"/><rect x="449" y="290" width="18" height="8" fill="#250061"/><rect x="449" y="282" width="18" height="8" fill="#360050"/><rect x="449" y="274" width="18" height="8" fill="#3e0048"/><rect x="449" y="266" width="18" height="8" fill="#32003a"/><rect x="449" y="258" width="18" height="8" fill="#28002e"/><rect x="449" y="250" width="18" height="8" fill="#24002a"/><rect x="449" y="242" width="18" height="8" fill="#210026"/><rect x="449" y="226" width="18" height="16" fill="#1d0022"/><rect x="449" y="218" width="18" height="8" fill="#1a001e"/><rect x="449" y="210" width="18" height="8" fill="#18001c"/><rect x="449" y="194" width="18" height="16" fill="#16001a"/><rect x="449" y="170" width="18" height="24" fill="#150018"/>
<rect x="467" y="730" width="18" height="88" fill="#070008"/><rect x="467" y="722" width="18" height="8" fill="#3c004a"/><rect x="467" y="714" width="18" height="8" fill="#340052"/><rect x="467" y="706" width="18" height="8" fill="#320054"/><rect x="467" y="698" width="18" height="8" fill="#2e0058"/><rect x="467" y="690" width="18" height="8" fill="#2b005b"/><rect x="467" y="682" width="18" height="8" fill="#27005f"/><rect x="467" y="674" width="18" height="8" fill="#230063"/><rect x="467" y="666" width="18" height="8" fill="#1b006b"/><rect x="467" y="658" width="18" height="8" fill="#130073"/><rect x="467" y="650" width="18" height="8" fill="#0c007a"/><rect x="467" y="642" width="18" height="8" fill="#040082"/><rect x="467" y="634" width="18" height="8" fill="#042264"/><rect x="467" y="626" width="18" height="8" fill="#0c6622"/><rect x="467" y="618" width="18" height="8" fill="#218e00"/><rect x="467" y="610" width="18" height="8" fill="#75ab00"/><rect x="467" y="602" width="18" height="8" fill="#a8bc00"/><rect x="467" y="594" width="18" height="8" fill="#c4b600"/><rect x="467" y="586" width="18" height="8" fill="#c5a000"/><rect x="467" y="578" width="18" height="8" fill="#c59000"/><rect x="467" y="570" width="18" height="8" fill="#c68500"/><rect x="467" y="562" width="18" height="8" fill="#c59000"/><rect x="467" y="554" width="18" height="8" fill="#c59500"/><rect x="467" y="546" width="18" height="8" fill="#c5a500"/><rect x="467" y="538" width="18" height="8" fill="#c4b600"/><rect x="467" y="530" width="18" height="8" fill="#bec400"/><rect x="467" y="522" width="18" height="8" fill="#a2ba00"/><rect x="467" y="514" width="18" height="8" fill="#8cb300"/><rect x="467" y="506" width="18" height="8" fill="#75ab00"/><rect x="467" y="498" width="18" height="8" fill="#64a500"/><rect x="467" y="490" width="18" height="8" fill="#59a100"/><rect x="467" y="482" width="18" height="8" fill="#4e9d00"/><rect x="467" y="474" width="18" height="8" fill="#439900"/><rect x="467" y="466" width="18" height="8" fill="#329400"/><rect x="467" y="458" width="18" height="8" fill="#2c9200"/><rect x="467" y="434" width="18" height="24" fill="#218e00"/><rect x="467" y="362" width="18" height="72" fill="#168a00"/><rect x="467" y="354" width="18" height="8" fill="#108800"/><rect x="467" y="346" width="18" height="8" fill="#108404"/><rect x="467" y="338" width="18" height="8" fill="#0c6a1d"/><rect x="467" y="330" width="18" height="8" fill="#08483f"/><rect x="467" y="322" width="18" height="8" fill="#042264"/><rect x="467" y="314" width="18" height="8" fill="#000086"/><rect x="467" y="306" width="18" height="8" fill="#210065"/><rect x="467" y="298" width="18" height="8" fill="#320054"/><rect x="467" y="290" width="18" height="8" fill="#3e0048"/><rect x="467" y="282" width="18" height="8" fill="#34003c"/><rect x="467" y="274" width="18" height="8" fill="#28002e"/><rect x="467" y="266" width="18" height="8" fill="#210026"/><rect x="467" y="258" width="18" height="8" fill="#1d0022"/><rect x="467" y="250" width="18" height="8" fill="#18001c"/><rect x="467" y="242" width="18" height="8" fill="#16001a"/><rect x="467" y="234" width="18" height="8" fill="#150018"/><rect x="467" y="226" width="18" height="8" fill="#130016"/><rect x="467" y="218" width="18" height="8" fill="#110014"/><rect x="467" y="170" width="18" height="48" fill="#100012"/>
<rect x="485" y="738" width="18" height="80" fill="#070008"/><rect x="485" y="722" width="18" height="16" fill="#3c004a"/><rect x="485" y="706" width="18" height="16" fill="#3a004c"/><rect x="485" y="698" width="18" height="8" fill="#38004e"/><rect x="485" y="690" width="18" height="8" fill="#340052"/><rect x="485" y="682" width="18" height="8" fill="#2e0058"/><rect x="485" y="674" width="18" height="8" fill="#250061"/><rect x="485" y="666" width="18" height="8" fill="#1f0067"/><rect x="485" y="658" width="18" height="8" fill="#130073"/><rect x="485" y="650" width="18" height="8" fill="#060080"/><rect x="485" y="642" width="18" height="8" fill="#021175"/><rect x="485" y="634" width="18" height="8" fill="#084443"/><rect x="485" y="626" width="18" height="8" fill="#0e7b0d"/><rect x="485" y="618" width="18" height="8" fill="#329400"/><rect x="485" y="610" width="18" height="8" fill="#5fa300"/><rect x="485" y="602" width="18" height="8" fill="#86b100"/><rect x="485" y="594" width="18" height="8" fill="#a2ba00"/><rect x="485" y="578" width="18" height="16" fill="#a8bc00"/><rect x="485" y="570" width="18" height="8" fill="#a2ba00"/><rect x="485" y="562" width="18" height="8" fill="#9db800"/><rect x="485" y="554" width="18" height="8" fill="#8cb300"/><rect x="485" y="546" width="18" height="8" fill="#7bad00"/><rect x="485" y="538" width="18" height="8" fill="#6aa700"/><rect x="485" y="530" width="18" height="8" fill="#5fa300"/><rect x="485" y="522" width="18" height="8" fill="#59a100"/><rect x="485" y="514" width="18" height="8" fill="#549f00"/><rect x="485" y="506" width="18" height="8" fill="#439900"/><rect x="485" y="498" width="18" height="8" fill="#379600"/><rect x="485" y="490" width="18" height="8" fill="#329400"/><rect x="485" y="482" width="18" height="8" fill="#2c9200"/><rect x="485" y="474" width="18" height="8" fill="#269000"/><rect x="485" y="442" width="18" height="32" fill="#218e00"/><rect x="485" y="386" width="18" height="56" fill="#1b8c00"/><rect x="485" y="378" width="18" height="8" fill="#168a00"/><rect x="485" y="370" width="18" height="8" fill="#108800"/><rect x="485" y="362" width="18" height="8" fill="#0e7b0d"/><rect x="485" y="354" width="18" height="8" fill="#0c6a1d"/><rect x="485" y="346" width="18" height="8" fill="#08483f"/><rect x="485" y="338" width="18" height="8" fill="#042264"/><rect x="485" y="330" width="18" height="8" fill="#000086"/><rect x="485" y="322" width="18" height="8" fill="#150071"/><rect x="485" y="314" width="18" height="8" fill="#2b005b"/><rect x="485" y="306" width="18" height="8" fill="#3e0048"/><rect x="485" y="298" width="18" height="8" fill="#35003e"/><rect x="485" y="290" width="18" height="8" fill="#28002e"/><rect x="485" y="282" width="18" height="8" fill="#210026"/><rect x="485" y="274" width="18" height="8" fill="#18001c"/><rect x="485" y="266" width="18" height="8" fill="#16001a"/><rect x="485" y="258" width="18" height="8" fill="#130016"/><rect x="485" y="250" width="18" height="8" fill="#100012"/><rect x="485" y="242" width="18" height="8" fill="#0e0010"/><rect x="485" y="234" width="18" height="8" fill="#0c000e"/><rect x="485" y="170" width="18" height="64" fill="#0a000c"/>
<rect x="503" y="754" width="18" height="64" fill="#070008"/><rect x="503" y="738" width="18" height="16" fill="#3c004a"/><rect x="503" y="722" width="18" height="16" fill="#3a004c"/><rect x="503" y="706" width="18" height="16" fill="#3c004a"/><rect x="503" y="698" width="18" height="8" fill="#3a004c"/><rect x="503" y="690" width="18" height="8" fill="#360050"/><rect x="503" y="682" width="18" height="8" fill="#2e0058"/><rect x="503" y="674" width="18" height="8" fill="#250061"/><rect x="503" y="666" width="18" height="8" fill="#17006f"/><rect x="503" y="658" width="18" height="8" fill="#0c007a"/><rect x="503" y="650" width="18" height="8" fill="#000086"/><rect x="503" y="642" width="18" height="8" fill="#042660"/><rect x="503" y="634" width="18" height="8" fill="#0a5532"/><rect x="503" y="626" width="18" height="8" fill="#108404"/><rect x="503" y="618" width="18" height="8" fill="#269000"/><rect x="503" y="610" width="18" height="8" fill="#3d9800"/><rect x="503" y="602" width="18" height="8" fill="#4e9d00"/><rect x="503" y="586" width="18" height="16" fill="#59a100"/><rect x="503" y="578" width="18" height="8" fill="#549f00"/><rect x="503" y="570" width="18" height="8" fill="#489b00"/><rect x="503" y="562" width="18" height="8" fill="#3d9800"/><rect x="503" y="546" width="18" height="16" fill="#329400"/><rect x="503" y="538" width="18" height="8" fill="#269000"/><rect x="503" y="530" width="18" height="8" fill="#1b8c00"/><rect x="503" y="482" width="18" height="48" fill="#108800"/><rect x="503" y="474" width="18" height="8" fill="#168a00"/><rect x="503" y="466" width="18" height="8" fill="#218e00"/><rect x="503" y="458" width="18" height="8" fill="#2c9200"/><rect x="503" y="442" width="18" height="16" fill="#329400"/><rect x="503" y="418" width="18" height="24" fill="#379600"/><rect x="503" y="410" width="18" height="8" fill="#329400"/><rect x="503" y="402" width="18" height="8" fill="#2c9200"/><rect x="503" y="394" width="18" height="8" fill="#269000"/><rect x="503" y="378" width="18" height="16" fill="#108800"/><rect x="503" y="370" width="18" height="8" fill="#0e7b0d"/><rect x="503" y="362" width="18" height="8" fill="#0a592e"/><rect x="503" y="354" width="18" height="8" fill="#063354"/><rect x="503" y="346" width="18" height="8" fill="#01087e"/><rect x="503" y="338" width="18" height="8" fill="#110075"/><rect x="503" y="330" width="18" height="8" fill="#250061"/><rect x="503" y="322" width="18" height="8" fill="#340052"/><rect x="503" y="314" width="18" height="8" fill="#3c0046"/><rect x="503" y="306" width="18" height="8" fill="#2e0036"/><rect x="503" y="298" width="18" height="8" fill="#210026"/><rect x="503" y="290" width="18" height="8" fill="#1a001e"/><rect x="503" y="282" width="18" height="8" fill="#150018"/><rect x="503" y="274" width="18" height="8" fill="#100012"/><rect x="503" y="266" width="18" height="8" fill="#0e0010"/><rect x="503" y="258" width="18" height="8" fill="#0a000c"/><rect x="503" y="242" width="18" height="16" fill="#09000a"/><rect x="503" y="170" width="18" height="72" fill="#070008"/>
<rect x="521" y="770" width="18" height="48" fill="#070008"/><rect x="521" y="754" width="18" height="16" fill="#3c004a"/><rect x="521" y="738" width="18" height="16" fill="#3a004c"/><rect x="521" y="722" width="18" height="16" fill="#38004e"/><rect x="521" y="706" width="18" height="16" fill="#3a004c"/><rect x="521" y="698" width="18" height="8" fill="#340052"/><rect x="521" y="690" width="18" height="8" fill="#2e0058"/><rect x="521" y="682" width="18" height="8" fill="#250061"/><rect x="521" y="674" width="18" height="8" fill="#19006d"/><rect x="521" y="666" width="18" height="8" fill="#0c007a"/><rect x="521" y="658" width="18" height="8" fill="#040082"/><rect x="521" y="650" width="18" height="8" fill="#021175"/><rect x="521" y="642" width="18" height="8" fill="#062f58"/><rect x="521" y="634" width="18" height="8" fill="#0a5532"/><rect x="521" y="626" width="18" height="8" fill="#0d6e19"/><rect x="521" y="618" width="18" height="8" fill="#0f8008"/><rect x="521" y="610" width="18" height="8" fill="#108404"/><rect x="521" y="594" width="18" height="16" fill="#108800"/><rect x="521" y="586" width="18" height="8" fill="#0f8008"/><rect x="521" y="578" width="18" height="8" fill="#0e7b0d"/><rect x="521" y="570" width="18" height="8" fill="#0d6e19"/><rect x="521" y="562" width="18" height="8" fill="#0c6622"/><rect x="521" y="546" width="18" height="16" fill="#0b5e2a"/><rect x="521" y="506" width="18" height="40" fill="#0a592e"/><rect x="521" y="498" width="18" height="8" fill="#0b5e2a"/><rect x="521" y="490" width="18" height="8" fill="#0c6a1d"/><rect x="521" y="482" width="18" height="8" fill="#0e7b0d"/><rect x="521" y="474" width="18" height="8" fill="#1b8c00"/><rect x="521" y="466" width="18" height="8" fill="#379600"/><rect x="521" y="458" width="18" height="8" fill="#549f00"/><rect x="521" y="450" width="18" height="8" fill="#5fa300"/><rect x="521" y="434" width="18" height="16" fill="#6aa700"/><rect x="521" y="426" width="18" height="8" fill="#5fa300"/><rect x="521" y="418" width="18" height="8" fill="#59a100"/><rect x="521" y="410" width="18" height="8" fill="#549f00"/><rect x="521" y="402" width="18" height="8" fill="#3d9800"/><rect x="521" y="394" width="18" height="8" fill="#2c9200"/><rect x="521" y="386" width="18" height="8" fill="#108800"/><rect x="521" y="378" width="18" height="8" fill="#0e7315"/><rect x="521" y="370" width="18" height="8" fill="#0a5136"/><rect x="521" y="362" width="18" height="8" fill="#042264"/><rect x="521" y="354" width="18" height="8" fill="#000086"/><rect x="521" y="346" width="18" height="8" fill="#150071"/><rect x="521" y="338" width="18" height="8" fill="#2e0058"/><rect x="521" y="330" width="18" height="8" fill="#3c004a"/><rect x="521" y="322" width="18" height="8" fill="#35003e"/><rect x="521" y="314" width="18" height="8" fill="#28002e"/><rect x="521" y="306" width="18" height="8" fill="#210026"/><rect x="521" y="298" width="18" height="8" fill="#1a001e"/><rect x="521" y="290" width="18" height="8" fill="#100012"/><rect x="521" y="266" width="18" height="24" fill="#0a000c"/><rect x="521" y="258" width="18" height="8" fill="#09000a"/><rect x="521" y="250" width="18" height="8" fill="#070008"/><rect x="521" y="170" width="18" height="80" fill="#050006"/>
<rect x="539" y="786" width="18" height="32" fill="#070008"/><rect x="539" y="770" width="18" height="16" fill="#3c004a"/><rect x="539" y="754" width="18" height="16" fill="#3a004c"/><rect x="539" y="746" width="18" height="8" fill="#38004e"/><rect x="539" y="730" width="18" height="16" fill="#360050"/><rect x="539" y="714" width="18" height="16" fill="#340052"/><rect x="539" y="706" width="18" height="8" fill="#2e0058"/><rect x="539" y="698" width="18" height="8" fill="#29005d"/><rect x="539" y="690" width="18" height="8" fill="#210065"/><rect x="539" y="682" width="18" height="8" fill="#19006d"/><rect x="539" y="674" width="18" height="8" fill="#0e0078"/><rect x="539" y="666" width="18" height="8" fill="#060080"/><rect x="539" y="658" width="18" height="8" fill="#000482"/><rect x="539" y="650" width="18" height="8" fill="#031a6d"/><rect x="539" y="642" width="18" height="8" fill="#063354"/><rect x="539" y="634" width="18" height="8" fill="#084047"/><rect x="539" y="626" width="18" height="8" fill="#094c3b"/><rect x="539" y="618" width="18" height="8" fill="#0a5532"/><rect x="539" y="610" width="18" height="8" fill="#0a592e"/><rect x="539" y="578" width="18" height="32" fill="#08483f"/><rect x="539" y="570" width="18" height="8" fill="#073c4b"/><rect x="539" y="562" width="18" height="8" fill="#063354"/><rect x="539" y="554" width="18" height="8" fill="#042660"/><rect x="539" y="514" width="18" height="40" fill="#052a5c"/><rect x="539" y="506" width="18" height="8" fill="#063354"/><rect x="539" y="498" width="18" height="8" fill="#094c3b"/><rect x="539" y="490" width="18" height="8" fill="#0a5532"/><rect x="539" y="482" width="18" height="8" fill="#0e7315"/><rect x="539" y="474" width="18" height="8" fill="#269000"/><rect x="539" y="466" width="18" height="8" fill="#5fa300"/><rect x="539" y="458" width="18" height="8" fill="#8cb300"/><rect x="539" y="450" width="18" height="8" fill="#aebe00"/><rect x="539" y="434" width="18" height="16" fill="#b9c200"/><rect x="539" y="426" width="18" height="8" fill="#a2ba00"/><rect x="539" y="418" width="18" height="8" fill="#8cb300"/><rect x="539" y="410" width="18" height="8" fill="#6aa700"/><rect x="539" y="402" width="18" height="8" fill="#3d9800"/><rect x="539" y="394" width="18" height="8" fill="#108800"/><rect x="539" y="386" width="18" height="8" fill="#0a5532"/><rect x="539" y="378" width="18" height="8" fill="#08483f"/><rect x="539" y="370" width="18" height="8" fill="#021175"/><rect x="539" y="362" width="18" height="8" fill="#110075"/><rect x="539" y="354" width="18" height="8" fill="#29005d"/><rect x="539" y="346" width="18" height="8" fill="#3c004a"/><rect x="539" y="338" width="18" height="8" fill="#34003c"/><rect x="539" y="330" width="18" height="8" fill="#28002e"/><rect x="539" y="322" width="18" height="8" fill="#210026"/><rect x="539" y="314" width="18" height="8" fill="#1a001e"/><rect x="539" y="306" width="18" height="8" fill="#150018"/><rect x="539" y="298" width="18" height="8" fill="#100012"/><rect x="539" y="274" width="18" height="24" fill="#0a000c"/><rect x="539" y="266" width="18" height="8" fill="#09000a"/><rect x="539" y="258" width="18" height="8" fill="#070008"/><rect x="539" y="250" width="18" height="8" fill="#050006"/><rect x="539" y="170" width="18" height="80" fill="#030004"/>
<rect x="557" y="802" width="18" height="16" fill="#070008"/><rect x="557" y="786" width="18" height="16" fill="#3c004a"/><rect x="557" y="770" width="18" height="16" fill="#3a004c"/><rect x="557" y="754" width="18" height="16" fill="#38004e"/><rect x="557" y="746" width="18" height="8" fill="#360050"/><rect x="557" y="730" width="18" height="16" fill="#340052"/><rect x="557" y="722" width="18" height="8" fill="#320054"/><rect x="557" y="714" width="18" height="8" fill="#2b005b"/><rect x="557" y="706" width="18" height="8" fill="#250061"/><rect x="557" y="698" width="18" height="8" fill="#1f0067"/><rect x="557" y="690" width="18" height="8" fill="#19006d"/><rect x="557" y="682" width="18" height="8" fill="#130073"/><rect x="557" y="674" width="18" height="8" fill="#0c007a"/><rect x="557" y="666" width="18" height="8" fill="#040082"/><rect x="557" y="658" width="18" height="8" fill="#000482"/><rect x="557" y="650" width="18" height="8" fill="#01087e"/><rect x="557" y="634" width="18" height="16" fill="#021175"/><rect x="557" y="610" width="18" height="24" fill="#021571"/><rect x="557" y="594" width="18" height="16" fill="#021175"/><rect x="557" y="586" width="18" height="8" fill="#020d79"/><rect x="557" y="578" width="18" height="8" fill="#000482"/><rect x="557" y="514" width="18" height="64" fill="#000086"/><rect x="557" y="506" width="18" height="8" fill="#020d79"/><rect x="557" y="498" width="18" height="8" fill="#042264"/><rect x="557" y="490" width="18" height="8" fill="#084047"/><rect x="557" y="482" width="18" height="8" fill="#0e7315"/><rect x="557" y="474" width="18" height="8" fill="#439900"/><rect x="557" y="466" width="18" height="8" fill="#9db800"/><rect x="557" y="458" width="18" height="8" fill="#c4c100"/><rect x="557" y="450" width="18" height="8" fill="#c5ab00"/><rect x="557" y="442" width="18" height="8" fill="#c5a500"/><rect x="557" y="434" width="18" height="8" fill="#c4bb00"/><rect x="557" y="426" width="18" height="8" fill="#aebe00"/><rect x="557" y="418" width="18" height="8" fill="#86b100"/><rect x="557" y="410" width="18" height="8" fill="#549f00"/><rect x="557" y="402" width="18" height="8" fill="#108800"/><rect x="557" y="394" width="18" height="8" fill="#094c3b"/><rect x="557" y="386" width="18" height="8" fill="#020d79"/><rect x="557" y="378" width="18" height="8" fill="#060080"/><rect x="557" y="370" width="18" height="8" fill="#2e0058"/><rect x="557" y="362" width="18" height="8" fill="#370040"/><rect x="557" y="354" width="18" height="8" fill="#34003c"/><rect x="557" y="346" width="18" height="8" fill="#28002e"/><rect x="557" y="338" width="18" height="8" fill="#210026"/><rect x="557" y="330" width="18" height="8" fill="#1a001e"/><rect x="557" y="322" width="18" height="8" fill="#150018"/><rect x="557" y="314" width="18" height="8" fill="#100012"/><rect x="557" y="306" width="18" height="8" fill="#0a000c"/><rect x="557" y="274" width="18" height="32" fill="#070008"/><rect x="557" y="170" width="18" height="104" fill="#030004"/>
<rect x="575" y="794" width="18" height="24" fill="#2e0036"/><rect x="575" y="786" width="18" height="8" fill="#300038"/><rect x="575" y="770" width="18" height="16" fill="#34003c"/><rect x="575" y="762" width="18" height="8" fill="#35003e"/><rect x="575" y="754" width="18" height="8" fill="#370040"/><rect x="575" y="746" width="18" height="8" fill="#3b0044"/><rect x="575" y="738" width="18" height="8" fill="#3c0046"/><rect x="575" y="730" width="18" height="8" fill="#3c004a"/><rect x="575" y="722" width="18" height="8" fill="#3a004c"/><rect x="575" y="714" width="18" height="8" fill="#38004e"/><rect x="575" y="706" width="18" height="8" fill="#320054"/><rect x="575" y="698" width="18" height="8" fill="#27005f"/><rect x="575" y="690" width="18" height="8" fill="#230063"/><rect x="575" y="682" width="18" height="8" fill="#1b006b"/><rect x="575" y="674" width="18" height="8" fill="#150071"/><rect x="575" y="658" width="18" height="16" fill="#0c007a"/><rect x="575" y="650" width="18" height="8" fill="#060080"/><rect x="575" y="634" width="18" height="16" fill="#040082"/><rect x="575" y="626" width="18" height="8" fill="#020084"/><rect x="575" y="610" width="18" height="16" fill="#000086"/><rect x="575" y="594" width="18" height="16" fill="#060080"/><rect x="575" y="554" width="18" height="40" fill="#0c007a"/><rect x="575" y="538" width="18" height="16" fill="#0a007c"/><rect x="575" y="522" width="18" height="16" fill="#08007e"/><rect x="575" y="514" width="18" height="8" fill="#060080"/><rect x="575" y="506" width="18" height="8" fill="#000482"/><rect x="575" y="498" width="18" height="8" fill="#041e69"/><rect x="575" y="490" width="18" height="8" fill="#073c4b"/><rect x="575" y="482" width="18" height="8" fill="#0f8008"/><rect x="575" y="474" width="18" height="8" fill="#59a100"/><rect x="575" y="466" width="18" height="8" fill="#b9c200"/><rect x="575" y="458" width="18" height="8" fill="#c4b000"/><rect x="575" y="450" width="18" height="8" fill="#c5ab00"/><rect x="575" y="442" width="18" height="8" fill="#c4c600"/><rect x="575" y="434" width="18" height="8" fill="#91b500"/><rect x="575" y="426" width="18" height="8" fill="#59a100"/><rect x="575" y="418" width="18" height="8" fill="#108800"/><rect x="575" y="410" width="18" height="8" fill="#0c6a1d"/><rect x="575" y="402" width="18" height="8" fill="#042660"/><rect x="575" y="394" width="18" height="8" fill="#060080"/><rect x="575" y="386" width="18" height="8" fill="#250061"/><rect x="575" y="378" width="18" height="8" fill="#340052"/><rect x="575" y="370" width="18" height="8" fill="#370040"/><rect x="575" y="362" width="18" height="8" fill="#2b0032"/><rect x="575" y="354" width="18" height="8" fill="#210026"/><rect x="575" y="346" width="18" height="8" fill="#1a001e"/><rect x="575" y="330" width="18" height="16" fill="#100012"/><rect x="575" y="306" width="18" height="24" fill="#0a000c"/><rect x="575" y="290" width="18" height="16" fill="#070008"/><rect x="575" y="274" width="18" height="16" fill="#050006"/><rect x="575" y="170" width="18" height="104" fill="#000000"/>
<rect x="593" y="810" width="18" height="8" fill="#2b0032"/><rect x="593" y="802" width="18" height="8" fill="#2d0034"/><rect x="593" y="786" width="18" height="16" fill="#2e0036"/><rect x="593" y="770" width="18" height="16" fill="#34003c"/><rect x="593" y="762" width="18" height="8" fill="#35003e"/><rect x="593" y="754" width="18" height="8" fill="#370040"/><rect x="593" y="746" width="18" height="8" fill="#3b0044"/><rect x="593" y="738" width="18" height="8" fill="#3c0046"/><rect x="593" y="730" width="18" height="8" fill="#3c004a"/><rect x="593" y="722" width="18" height="8" fill="#38004e"/><rect x="593" y="714" width="18" height="8" fill="#320054"/><rect x="593" y="706" width="18" height="8" fill="#2b005b"/><rect x="593" y="698" width="18" height="8" fill="#29005d"/><rect x="593" y="690" width="18" height="8" fill="#230063"/><rect x="593" y="682" width="18" height="8" fill="#1b006b"/><rect x="593" y="674" width="18" height="8" fill="#150071"/><rect x="593" y="618" width="18" height="56" fill="#110075"/><rect x="593" y="610" width="18" height="8" fill="#150071"/><rect x="593" y="586" width="18" height="24" fill="#1f0067"/><rect x="593" y="546" width="18" height="40" fill="#230063"/><rect x="593" y="538" width="18" height="8" fill="#210065"/><rect x="593" y="530" width="18" height="8" fill="#1f0067"/><rect x="593" y="522" width="18" height="8" fill="#1b006b"/><rect x="593" y="514" width="18" height="8" fill="#150071"/><rect x="593" y="506" width="18" height="8" fill="#0c007a"/><rect x="593" y="498" width="18" height="8" fill="#021175"/><rect x="593" y="490" width="18" height="8" fill="#094c3b"/><rect x="593" y="482" width="18" height="8" fill="#108800"/><rect x="593" y="474" width="18" height="8" fill="#59a100"/><rect x="593" y="458" width="18" height="16" fill="#a2ba00"/><rect x="593" y="450" width="18" height="8" fill="#6aa700"/><rect x="593" y="442" width="18" height="8" fill="#329400"/><rect x="593" y="434" width="18" height="8" fill="#108404"/><rect x="593" y="426" width="18" height="8" fill="#08483f"/><rect x="593" y="418" width="18" height="8" fill="#000482"/><rect x="593" y="410" width="18" height="8" fill="#150071"/><rect x="593" y="402" width="18" height="8" fill="#2e0058"/><rect x="593" y="394" width="18" height="8" fill="#3c004a"/><rect x="593" y="386" width="18" height="8" fill="#34003c"/><rect x="593" y="378" width="18" height="8" fill="#26002c"/><rect x="593" y="370" width="18" height="8" fill="#1d0022"/><rect x="593" y="362" width="18" height="8" fill="#150018"/><rect x="593" y="354" width="18" height="8" fill="#100012"/><rect x="593" y="322" width="18" height="32" fill="#0a000c"/><rect x="593" y="298" width="18" height="24" fill="#070008"/><rect x="593" y="282" width="18" height="16" fill="#050006"/><rect x="593" y="274" width="18" height="8" fill="#030004"/><rect x="593" y="250" width="18" height="24" fill="#050006"/><rect x="593" y="218" width="18" height="32" fill="#030004"/><rect x="593" y="186" width="18" height="32" fill="#020002"/><rect x="593" y="170" width="18" height="16" fill="#000000"/>
<rect x="611" y="810" width="18" height="8" fill="#2b0032"/><rect x="611" y="802" width="18" height="8" fill="#2d0034"/><rect x="611" y="786" width="18" height="16" fill="#2e0036"/><rect x="611" y="770" width="18" height="16" fill="#34003c"/><rect x="611" y="762" width="18" height="8" fill="#35003e"/><rect x="611" y="754" width="18" height="8" fill="#370040"/><rect x="611" y="746" width="18" height="8" fill="#3b0044"/><rect x="611" y="738" width="18" height="8" fill="#3c0046"/><rect x="611" y="730" width="18" height="8" fill="#3c004a"/><rect x="611" y="722" width="18" height="8" fill="#38004e"/><rect x="611" y="714" width="18" height="8" fill="#300056"/><rect x="611" y="706" width="18" height="8" fill="#29005d"/><rect x="611" y="698" width="18" height="8" fill="#250061"/><rect x="611" y="690" width="18" height="8" fill="#1f0067"/><rect x="611" y="658" width="18" height="32" fill="#1b006b"/><rect x="611" y="634" width="18" height="24" fill="#210065"/><rect x="611" y="626" width="18" height="8" fill="#250061"/><rect x="611" y="618" width="18" height="8" fill="#29005d"/><rect x="611" y="594" width="18" height="24" fill="#2b005b"/><rect x="611" y="538" width="18" height="56" fill="#300056"/><rect x="611" y="530" width="18" height="8" fill="#2b005b"/><rect x="611" y="522" width="18" height="8" fill="#250061"/><rect x="611" y="514" width="18" height="8" fill="#150071"/><rect x="611" y="506" width="18" height="8" fill="#000086"/><rect x="611" y="498" width="18" height="8" fill="#063354"/><rect x="611" y="490" width="18" height="8" fill="#0e7315"/><rect x="611" y="474" width="18" height="16" fill="#108800"/><rect x="611" y="466" width="18" height="8" fill="#108404"/><rect x="611" y="458" width="18" height="8" fill="#0c6226"/><rect x="611" y="450" width="18" height="8" fill="#052a5c"/><rect x="611" y="442" width="18" height="8" fill="#000086"/><rect x="611" y="434" width="18" height="8" fill="#150071"/><rect x="611" y="426" width="18" height="8" fill="#2b005b"/><rect x="611" y="418" width="18" height="8" fill="#3c004a"/><rect x="611" y="410" width="18" height="8" fill="#35003e"/><rect x="611" y="402" width="18" height="8" fill="#28002e"/><rect x="611" y="394" width="18" height="8" fill="#220028"/><rect x="611" y="386" width="18" height="8" fill="#210026"/><rect x="611" y="378" width="18" height="8" fill="#1a001e"/><rect x="611" y="370" width="18" height="8" fill="#150018"/><rect x="611" y="362" width="18" height="8" fill="#110014"/><rect x="611" y="354" width="18" height="8" fill="#0e0010"/><rect x="611" y="346" width="18" height="8" fill="#0c000e"/><rect x="611" y="338" width="18" height="8" fill="#0a000c"/><rect x="611" y="274" width="18" height="64" fill="#030004"/><rect x="611" y="218" width="18" height="56" fill="#020002"/><rect x="611" y="170" width="18" height="48" fill="#000000"/>
<rect x="629" y="802" width="18" height="16" fill="#2b0032"/><rect x="629" y="794" width="18" height="8" fill="#2d0034"/><rect x="629" y="786" width="18" height="8" fill="#2e0036"/><rect x="629" y="778" width="18" height="8" fill="#300038"/><rect x="629" y="762" width="18" height="16" fill="#34003c"/><rect x="629" y="754" width="18" height="8" fill="#370040"/><rect x="629" y="746" width="18" height="8" fill="#3b0044"/><rect x="629" y="738" width="18" height="8" fill="#3c0046"/><rect x="629" y="730" width="18" height="8" fill="#3c004a"/><rect x="629" y="722" width="18" height="8" fill="#340052"/><rect x="629" y="714" width="18" height="8" fill="#2e0058"/><rect x="629" y="706" width="18" height="8" fill="#29005d"/><rect x="629" y="698" width="18" height="8" fill="#230063"/><rect x="629" y="650" width="18" height="48" fill="#27005f"/><rect x="629" y="642" width="18" height="8" fill="#29005d"/><rect x="629" y="634" width="18" height="8" fill="#2b005b"/><rect x="629" y="626" width="18" height="8" fill="#2e0058"/><rect x="629" y="618" width="18" height="8" fill="#320054"/><rect x="629" y="554" width="18" height="64" fill="#38004e"/><rect x="629" y="546" width="18" height="8" fill="#320054"/><rect x="629" y="538" width="18" height="8" fill="#29005d"/><rect x="629" y="530" width="18" height="8" fill="#1f0067"/><rect x="629" y="522" width="18" height="8" fill="#150071"/><rect x="629" y="514" width="18" height="8" fill="#000086"/><rect x="629" y="506" width="18" height="8" fill="#031a6d"/><rect x="629" y="498" width="18" height="8" fill="#041e69"/><rect x="629" y="490" width="18" height="8" fill="#031a6d"/><rect x="629" y="482" width="18" height="8" fill="#000086"/><rect x="629" y="474" width="18" height="8" fill="#0c007a"/><rect x="629" y="466" width="18" height="8" fill="#1f0067"/><rect x="629" y="458" width="18" height="8" fill="#320054"/><rect x="629" y="450" width="18" height="8" fill="#3c0046"/><rect x="629" y="442" width="18" height="8" fill="#35003e"/><rect x="629" y="434" width="18" height="8" fill="#28002e"/><rect x="629" y="426" width="18" height="8" fill="#210026"/><rect x="629" y="386" width="18" height="40" fill="#1a001e"/><rect x="629" y="378" width="18" height="8" fill="#150018"/><rect x="629" y="370" width="18" height="8" fill="#100012"/><rect x="629" y="362" width="18" height="8" fill="#0c000e"/><rect x="629" y="354" width="18" height="8" fill="#0a000c"/><rect x="629" y="346" width="18" height="8" fill="#09000a"/><rect x="629" y="338" width="18" height="8" fill="#070008"/><rect x="629" y="274" width="18" height="64" fill="#030004"/><rect x="629" y="250" width="18" height="24" fill="#070008"/><rect x="629" y="218" width="18" height="32" fill="#050006"/><rect x="629" y="186" width="18" height="32" fill="#030004"/><rect x="629" y="170" width="18" height="16" fill="#020002"/>
<rect x="647" y="802" width="18" height="16" fill="#28002e"/><rect x="647" y="794" width="18" height="8" fill="#290030"/><rect x="647" y="786" width="18" height="8" fill="#2b0032"/><rect x="647" y="778" width="18" height="8" fill="#2d0034"/><rect x="647" y="762" width="18" height="16" fill="#2e0036"/><rect x="647" y="754" width="18" height="8" fill="#34003c"/><rect x="647" y="746" width="18" height="8" fill="#35003e"/><rect x="647" y="738" width="18" height="8" fill="#370040"/><rect x="647" y="730" width="18" height="8" fill="#3b0044"/><rect x="647" y="722" width="18" height="8" fill="#3c004a"/><rect x="647" y="714" width="18" height="8" fill="#340052"/><rect x="647" y="706" width="18" height="8" fill="#2e0058"/><rect x="647" y="698" width="18" height="8" fill="#29005d"/><rect x="647" y="666" width="18" height="32" fill="#250061"/><rect x="647" y="658" width="18" height="8" fill="#29005d"/><rect x="647" y="650" width="18" height="8" fill="#2b005b"/><rect x="647" y="642" width="18" height="8" fill="#2e0058"/><rect x="647" y="634" width="18" height="8" fill="#320054"/><rect x="647" y="626" width="18" height="8" fill="#340052"/><rect x="647" y="618" width="18" height="8" fill="#38004e"/><rect x="647" y="610" width="18" height="8" fill="#3a004c"/><rect x="647" y="570" width="18" height="40" fill="#360050"/><rect x="647" y="562" width="18" height="8" fill="#300056"/><rect x="647" y="554" width="18" height="8" fill="#2b005b"/><rect x="647" y="546" width="18" height="8" fill="#250061"/><rect x="647" y="538" width="18" height="8" fill="#210065"/><rect x="647" y="506" width="18" height="32" fill="#1f0067"/><rect x="647" y="498" width="18" height="8" fill="#250061"/><rect x="647" y="490" width="18" height="8" fill="#2e0058"/><rect x="647" y="482" width="18" height="8" fill="#3c004a"/><rect x="647" y="474" width="18" height="8" fill="#370040"/><rect x="647" y="466" width="18" height="8" fill="#2e0036"/><rect x="647" y="458" width="18" height="8" fill="#28002e"/><rect x="647" y="450" width="18" height="8" fill="#1d0022"/><rect x="647" y="442" width="18" height="8" fill="#1a001e"/><rect x="647" y="386" width="18" height="56" fill="#100012"/><rect x="647" y="362" width="18" height="24" fill="#0e0010"/><rect x="647" y="338" width="18" height="24" fill="#0c000e"/><rect x="647" y="314" width="18" height="24" fill="#0a000c"/><rect x="647" y="282" width="18" height="32" fill="#09000a"/><rect x="647" y="250" width="18" height="32" fill="#070008"/><rect x="647" y="218" width="18" height="32" fill="#050006"/><rect x="647" y="186" width="18" height="32" fill="#030004"/><rect x="647" y="170" width="18" height="16" fill="#020002"/>
<rect x="665" y="770" width="18" height="48" fill="#210026"/><rect x="665" y="738" width="18" height="32" fill="#24002a"/><rect x="665" y="730" width="18" height="8" fill="#28002e"/><rect x="665" y="722" width="18" height="8" fill="#2b0032"/><rect x="665" y="714" width="18" height="8" fill="#34003c"/><rect x="665" y="706" width="18" height="8" fill="#370040"/><rect x="665" y="698" width="18" height="8" fill="#3e0048"/><rect x="665" y="690" width="18" height="8" fill="#3c004a"/><rect x="665" y="682" width="18" height="8" fill="#38004e"/><rect x="665" y="674" width="18" height="8" fill="#360050"/><rect x="665" y="666" width="18" height="8" fill="#320054"/><rect x="665" y="642" width="18" height="24" fill="#300056"/><rect x="665" y="618" width="18" height="24" fill="#320054"/><rect x="665" y="522" width="18" height="96" fill="#38004e"/><rect x="665" y="514" width="18" height="8" fill="#3c004a"/><rect x="665" y="506" width="18" height="8" fill="#3c0046"/><rect x="665" y="498" width="18" height="8" fill="#370040"/><rect x="665" y="490" width="18" height="8" fill="#2e0036"/><rect x="665" y="482" width="18" height="8" fill="#210026"/><rect x="665" y="474" width="18" height="8" fill="#1a001e"/><rect x="665" y="466" width="18" height="8" fill="#150018"/><rect x="665" y="458" width="18" height="8" fill="#100012"/><rect x="665" y="362" width="18" height="96" fill="#0a000c"/><rect x="665" y="314" width="18" height="48" fill="#09000a"/><rect x="665" y="274" width="18" height="40" fill="#070008"/><rect x="665" y="234" width="18" height="40" fill="#050006"/><rect x="665" y="186" width="18" height="48" fill="#030004"/><rect x="665" y="170" width="18" height="16" fill="#020002"/>
<rect x="683" y="778" width="18" height="40" fill="#1a001e"/><rect x="683" y="754" width="18" height="24" fill="#1d0022"/><rect x="683" y="722" width="18" height="32" fill="#1f0024"/><rect x="683" y="690" width="18" height="32" fill="#210026"/><rect x="683" y="682" width="18" height="8" fill="#2b0032"/><rect x="683" y="674" width="18" height="8" fill="#34003c"/><rect x="683" y="666" width="18" height="8" fill="#370040"/><rect x="683" y="658" width="18" height="8" fill="#3b0044"/><rect x="683" y="650" width="18" height="8" fill="#3c0046"/><rect x="683" y="594" width="18" height="56" fill="#3e0048"/><rect x="683" y="530" width="18" height="64" fill="#3c0046"/><rect x="683" y="522" width="18" height="8" fill="#3b0044"/><rect x="683" y="514" width="18" height="8" fill="#370040"/><rect x="683" y="506" width="18" height="8" fill="#35003e"/><rect x="683" y="498" width="18" height="8" fill="#34003c"/><rect x="683" y="490" width="18" height="8" fill="#2b0032"/><rect x="683" y="482" width="18" height="8" fill="#26002c"/><rect x="683" y="474" width="18" height="8" fill="#210026"/><rect x="683" y="386" width="18" height="88" fill="#150018"/><rect x="683" y="378" width="18" height="8" fill="#130016"/><rect x="683" y="362" width="18" height="16" fill="#110014"/><rect x="683" y="338" width="18" height="24" fill="#100012"/><rect x="683" y="322" width="18" height="16" fill="#0e0010"/><rect x="683" y="306" width="18" height="16" fill="#0c000e"/><rect x="683" y="282" width="18" height="24" fill="#0a000c"/><rect x="683" y="250" width="18" height="32" fill="#09000a"/><rect x="683" y="226" width="18" height="24" fill="#070008"/><rect x="683" y="202" width="18" height="24" fill="#050006"/><rect x="683" y="170" width="18" height="32" fill="#030004"/>
<rect x="701" y="770" width="18" height="48" fill="#100012"/><rect x="701" y="762" width="18" height="8" fill="#110014"/><rect x="701" y="754" width="18" height="8" fill="#130016"/><rect x="701" y="722" width="18" height="32" fill="#150018"/><rect x="701" y="706" width="18" height="16" fill="#18001c"/><rect x="701" y="682" width="18" height="24" fill="#1a001e"/><rect x="701" y="658" width="18" height="24" fill="#210026"/><rect x="701" y="650" width="18" height="8" fill="#24002a"/><rect x="701" y="642" width="18" height="8" fill="#26002c"/><rect x="701" y="546" width="18" height="96" fill="#28002e"/><rect x="701" y="530" width="18" height="16" fill="#26002c"/><rect x="701" y="522" width="18" height="8" fill="#24002a"/><rect x="701" y="514" width="18" height="8" fill="#220028"/><rect x="701" y="498" width="18" height="16" fill="#210026"/><rect x="701" y="482" width="18" height="16" fill="#1f0024"/><rect x="701" y="442" width="18" height="40" fill="#1d0022"/><rect x="701" y="410" width="18" height="32" fill="#1c0020"/><rect x="701" y="386" width="18" height="24" fill="#1a001e"/><rect x="701" y="378" width="18" height="8" fill="#18001c"/><rect x="701" y="362" width="18" height="16" fill="#16001a"/><rect x="701" y="354" width="18" height="8" fill="#150018"/><rect x="701" y="338" width="18" height="16" fill="#130016"/><rect x="701" y="322" width="18" height="16" fill="#110014"/><rect x="701" y="306" width="18" height="16" fill="#100012"/><rect x="701" y="290" width="18" height="16" fill="#0e0010"/><rect x="701" y="274" width="18" height="16" fill="#0c000e"/><rect x="701" y="258" width="18" height="16" fill="#0a000c"/><rect x="701" y="234" width="18" height="24" fill="#09000a"/><rect x="701" y="218" width="18" height="16" fill="#070008"/><rect x="701" y="194" width="18" height="24" fill="#050006"/><rect x="701" y="170" width="18" height="24" fill="#030004"/>
<rect x="719" y="682" width="18" height="136" fill="#070008"/><rect x="719" y="658" width="18" height="24" fill="#100012"/><rect x="719" y="498" width="18" height="160" fill="#1a001e"/><rect x="719" y="482" width="18" height="16" fill="#150018"/><rect x="719" y="442" width="18" height="40" fill="#130016"/><rect x="719" y="410" width="18" height="32" fill="#110014"/><rect x="719" y="386" width="18" height="24" fill="#100012"/><rect x="719" y="362" width="18" height="24" fill="#0e0010"/><rect x="719" y="338" width="18" height="24" fill="#0c000e"/><rect x="719" y="306" width="18" height="32" fill="#0a000c"/><rect x="719" y="274" width="18" height="32" fill="#09000a"/><rect x="719" y="242" width="18" height="32" fill="#070008"/><rect x="719" y="202" width="18" height="40" fill="#050006"/><rect x="719" y="170" width="18" height="32" fill="#030004"/>
<rect x="737" y="770" width="18" height="48" fill="#0a000c"/><rect x="737" y="738" width="18" height="32" fill="#100012"/><rect x="737" y="658" width="18" height="80" fill="#0a000c"/><rect x="737" y="498" width="18" height="160" fill="#100012"/><rect x="737" y="426" width="18" height="72" fill="#0c000e"/><rect x="737" y="378" width="18" height="48" fill="#0a000c"/><rect x="737" y="322" width="18" height="56" fill="#09000a"/><rect x="737" y="274" width="18" height="48" fill="#070008"/><rect x="737" y="218" width="18" height="56" fill="#050006"/><rect x="737" y="170" width="18" height="48" fill="#030004"/>
<rect x="755" y="738" width="18" height="80" fill="#0a000c"/><rect x="755" y="498" width="18" height="240" fill="#1a001e"/><rect x="755" y="482" width="18" height="16" fill="#150018"/><rect x="755" y="442" width="18" height="40" fill="#130016"/><rect x="755" y="410" width="18" height="32" fill="#110014"/><rect x="755" y="386" width="18" height="24" fill="#100012"/><rect x="755" y="362" width="18" height="24" fill="#0e0010"/><rect x="755" y="338" width="18" height="24" fill="#0c000e"/><rect x="755" y="306" width="18" height="32" fill="#0a000c"/><rect x="755" y="266" width="18" height="40" fill="#09000a"/><rect x="755" y="226" width="18" height="40" fill="#070008"/><rect x="755" y="194" width="18" height="32" fill="#050006"/><rect x="755" y="170" width="18" height="24" fill="#030004"/>
<rect x="773" y="714" width="18" height="104" fill="#0a000c"/><rect x="773" y="658" width="18" height="56" fill="#210026"/><rect x="773" y="498" width="18" height="160" fill="#28002e"/><rect x="773" y="426" width="18" height="72" fill="#26002c"/><rect x="773" y="386" width="18" height="40" fill="#24002a"/><rect x="773" y="362" width="18" height="24" fill="#220028"/><rect x="773" y="338" width="18" height="24" fill="#210026"/><rect x="773" y="306" width="18" height="32" fill="#1f0024"/><rect x="773" y="282" width="18" height="24" fill="#1d0022"/><rect x="773" y="258" width="18" height="24" fill="#1c0020"/><rect x="773" y="234" width="18" height="24" fill="#1a001e"/><rect x="773" y="210" width="18" height="24" fill="#18001c"/><rect x="773" y="194" width="18" height="16" fill="#16001a"/><rect x="773" y="178" width="18" height="16" fill="#150018"/><rect x="773" y="170" width="18" height="8" fill="#09000a"/>
</g>
<g stroke="#000" stroke-width="1" fill="none" shape-rendering="crispEdges">
<rect x="142.5" y="169.5" width="649" height="649"/>
<path d="M160.5 818v-6M160.5 170v6M178.5 818v-6M178.5 170v6M196.5 818v-6M196.5 170v6M214.5 818v-6M214.5 170v6M232.5 818v-13M232.5 170v13M250.5 818v-6M250.5 170v6M268.5 818v-6M268.5 170v6M286.5 818v-6M286.5 170v6M304.5 818v-6M304.5 170v6M322.5 818v-13M322.5 170v13M340.5 818v-6M340.5 170v6M358.5 818v-6M358.5 170v6M376.5 818v-6M376.5 170v6M394.5 818v-6M394.5 170v6M412.5 818v-13M412.5 170v13M430.5 818v-6M430.5 170v6M448.5 818v-6M448.5 170v6M466.5 818v-6M466.5 170v6M484.5 818v-6M484.5 170v6M502.5 818v-13M502.5 170v13M520.5 818v-6M520.5 170v6M538.5 818v-6M538.5 170v6M556.5 818v-6M556.5 170v6M574.5 818v-6M574.5 170v6M592.5 818v-13M592.5 170v13M610.5 818v-6M610.5 170v6M628.5 818v-6M628.5 170v6M646.5 818v-6M646.5 170v6M664.5 818v-6M664.5 170v6M682.5 818v-13M682.5 170v13M700.5 818v-6M700.5 170v6M718.5 818v-6M718.5 170v6M736.5 818v-6M736.5 170v6M754.5 818v-6M754.5 170v6M772.5 818v-13M772.5 170v13M143 737.5h6M791 737.5h-6M143 657.5h13M791 657.5h-13M143 577.5h6M791 577.5h-6M143 497.5h13M791 497.5h-13M143 417.5h6M791 417.5h-6M143 337.5h13M791 337.5h-13M143 257.5h6M791 257.5h-6M143 177.5h13M791 177.5h-13"/>
</g>
<defs><linearGradient id="pal" x1="0" y1="0" x2="1" y2="0"><stop offset="0.0000" stop-color="#000000"/><stop offset="0.1550" stop-color="#3e0048"/><stop offset="0.2850" stop-color="#000086"/><stop offset="0.4283" stop-color="#108800"/><stop offset="0.5700" stop-color="#c4c600"/><stop offset="0.7217" stop-color="#c81800"/><stop offset="0.8500" stop-color="#ff0000"/><stop offset="1.0000" stop-color="#ffffff"/></linearGradient></defs>
<rect x="538" y="33" width="326" height="15" fill="url(#pal)"/>
<g stroke="#000" stroke-width="1" fill="none" shape-rendering="crispEdges">
<rect x="538.5" y="33.5" width="325.0" height="14.0"/>
<path d="M592.5 47v-2M592.5 34v2M646.5 47v-2M646.5 34v2M700.5 47v-2M700.5 34v2M754.5 47v-2M754.5 34v2M808.5 47v-2M808.5 34v2"/>
</g>
<text class="m" x="539.0" y="81.6">0</text><text class="m" x="593.2" y="81.6">10</text><text class="m" x="647.3" y="81.6">20</text><text class="m" x="701.5" y="81.6">30</text><text class="m" x="755.7" y="81.6">40</text><text class="m" x="809.8" y="81.6">50</text><text class="m" x="864.0" y="81.6">60</text>
<text class="m" x="700.6" y="20">TEC</text>
<text y="155.6" xml:space="preserve"><tspan x="249.6">PBf20171124  </tspan><tspan x="431.7">UT: </tspan><tspan x="486.4" textLength="50" lengthAdjust="spacingAndGlyphs">7.25</tspan><tspan>  </tspan><tspan x="554.6">mjd: </tspan><tspan x="616.3" textLength="73.6" lengthAdjust="spacingAndGlyphs">58081</tspan></text>
<text class="m" x="142.8" y="851.7">0</text><text class="m" x="232.9" y="851.7">50</text><text class="m" x="323.1" y="851.7">100</text><text class="m" x="413.2" y="851.7">150</text><text class="m" x="503.4" y="851.7">200</text><text class="m" x="593.5" y="851.7">250</text><text class="m" x="683.6" y="851.7">300</text><text class="m" x="773.8" y="851.7">350</text>
<text class="e" x="128.8" y="825.2">-40</text><text class="e" x="128.8" y="665.1">-20</text><text class="e" x="128.8" y="505.0">0</text><text class="e" x="128.8" y="344.8">20</text><text class="e" x="128.8" y="184.7">40</text>
<text x="0" y="417.3">Latitude</text>
<text class="m" x="467" y="892.2">Longitude</text>
</svg>
</body></html>
